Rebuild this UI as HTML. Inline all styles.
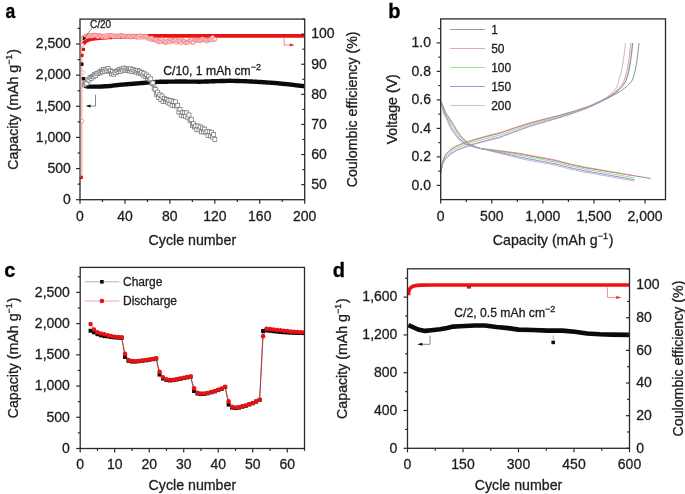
<!DOCTYPE html>
<html><head><meta charset="utf-8"><style>
html,body{margin:0;padding:0;background:#fff;width:685px;height:494px;overflow:hidden}
svg{display:block;will-change:transform}
text{font-family:"Liberation Sans", sans-serif}
</style></head><body>
<svg width="685" height="494" viewBox="0 0 685 494" font-family='"Liberation Sans", sans-serif'>
<rect width="685" height="494" fill="#fff"/>
<line x1="81.7" y1="40" x2="81.7" y2="178" stroke="#eec0c0" stroke-width="1.6" />
<polyline points="83.37,44 84.49,42.48 85.62,41.43 86.74,40.76 87.86,40.08 88.99,39.75 90.11,39.47 91.23,39.19 92.36,38.96 93.48,38.81 94.61,38.67 95.73,38.53 96.85,38.39 97.98,38.25 99.1,38.11 100.22,37.98 101.35,37.91 102.47,37.83 103.59,37.75 104.72,37.67 105.84,37.59 106.96,37.51 108.09,37.43 109.21,37.36 110.33,37.28 111.46,37.23 112.58,37.17 113.7,37.11 114.83,37.06 115.95,37 117.08,36.95 118.2,36.89 119.32,36.83 120.45,36.79 121.57,36.75 122.69,36.71 123.82,36.67 124.94,36.64 126.06,36.6 127.19,36.56 128.31,36.52 129.43,36.49 130.56,36.45 131.68,36.41 132.8,36.37 133.93,36.34 135.05,36.3 136.18,36.26 137.3,36.23 138.42,36.2 139.55,36.16 140.67,36.13 141.79,36.1 142.92,36.06 144.04,36.03 145.16,36 146.29,35.97 147.41,35.95 148.53,35.93 149.66,35.91 150.78,35.88 151.9,35.86 153.03,35.84 154.15,35.82 155.27,35.8 156.4,35.8 157.52,35.8 158.64,35.8 159.77,35.8 160.89,35.8 162.02,35.8 163.14,35.8 164.26,35.8 165.39,35.8 166.51,35.8 167.63,35.8 168.76,35.8 169.88,35.8 171,35.8 172.13,35.8 173.25,35.8 174.37,35.8 175.5,35.8 176.62,35.8 177.74,35.8 178.87,35.8 179.99,35.8 181.12,35.8 182.24,35.8 183.36,35.8 184.49,35.8 185.61,35.8 186.73,35.8 187.86,35.8 188.98,35.8 190.1,35.8 191.23,35.8 192.35,35.8 193.47,35.8 194.6,35.8 195.72,35.8 196.84,35.8 197.97,35.8 199.09,35.8 200.21,35.8 201.34,35.8 202.46,35.8 203.58,35.8 204.71,35.8 205.83,35.8 206.96,35.8 208.08,35.8 209.2,35.8 210.33,35.8 211.45,35.8 212.57,35.8 213.7,35.8 214.82,35.8 215.94,35.8 217.07,35.8 218.19,35.8 219.31,35.8 220.44,35.8 221.56,35.8 222.68,35.8 223.81,35.8 224.93,35.8 226.06,35.8 227.18,35.8 228.3,35.8 229.43,35.8 230.55,35.8 231.67,35.8 232.8,35.8 233.92,35.8 235.04,35.8 236.17,35.8 237.29,35.8 238.41,35.8 239.54,35.8 240.66,35.8 241.78,35.8 242.91,35.8 244.03,35.8 245.15,35.8 246.28,35.8 247.4,35.8 248.53,35.8 249.65,35.8 250.77,35.8 251.9,35.8 253.02,35.8 254.14,35.8 255.27,35.8 256.39,35.8 257.51,35.8 258.64,35.8 259.76,35.8 260.88,35.8 262.01,35.8 263.13,35.8 264.25,35.8 265.38,35.8 266.5,35.8 267.62,35.8 268.75,35.8 269.87,35.8 271,35.8 272.12,35.8 273.24,35.8 274.37,35.8 275.49,35.8 276.61,35.8 277.74,35.8 278.86,35.8 279.98,35.8 281.11,35.8 282.23,35.8 283.35,35.8 284.48,35.8 285.6,35.8 286.72,35.8 287.85,35.8 288.97,35.8 290.09,35.8 291.22,35.8 292.34,35.8 293.47,35.8 294.59,35.8 295.71,35.8 296.84,35.8 297.96,35.8 299.08,35.8 300.21,35.8 301.33,35.8 302.45,35.8 303.58,35.8 304.7,35.8" fill="none" stroke="#ee1111" stroke-width="3.8" stroke-linejoin="round" stroke-linecap="butt" />
<rect x="80.4" y="53.7" width="3.2" height="3.2" fill="#e51010"/>
<rect x="81.8" y="47.8" width="3.2" height="3.2" fill="#e51010"/>
<rect x="79.7" y="175.8" width="3.2" height="3.2" fill="#e51010"/>
<circle cx="82.4" cy="44.9" r="1.7" fill="#fff" stroke="#f07070" stroke-width="0.6"/>
<circle cx="82.2" cy="121.1" r="1.7" fill="#fff" stroke="#f07070" stroke-width="0.6"/>
<circle cx="83.37" cy="37.72" r="2.0" fill="#fde6e6" stroke="#ef6262" stroke-width="0.6"/>
<circle cx="84.49" cy="36.67" r="2.0" fill="#fde6e6" stroke="#ef6262" stroke-width="0.6"/>
<circle cx="85.62" cy="36.94" r="2.0" fill="#fde6e6" stroke="#ef6262" stroke-width="0.6"/>
<circle cx="86.74" cy="35.53" r="2.0" fill="#fde6e6" stroke="#ef6262" stroke-width="0.6"/>
<circle cx="87.86" cy="36.39" r="2.0" fill="#fde6e6" stroke="#ef6262" stroke-width="0.6"/>
<circle cx="88.99" cy="36.01" r="2.0" fill="#fde6e6" stroke="#ef6262" stroke-width="0.6"/>
<circle cx="90.11" cy="35.36" r="2.0" fill="#fde6e6" stroke="#ef6262" stroke-width="0.6"/>
<circle cx="91.23" cy="36.18" r="2.0" fill="#fde6e6" stroke="#ef6262" stroke-width="0.6"/>
<circle cx="92.36" cy="35.22" r="2.0" fill="#fde6e6" stroke="#ef6262" stroke-width="0.6"/>
<circle cx="93.48" cy="35.94" r="2.0" fill="#fde6e6" stroke="#ef6262" stroke-width="0.6"/>
<circle cx="94.61" cy="35.18" r="2.0" fill="#fde6e6" stroke="#ef6262" stroke-width="0.6"/>
<circle cx="95.73" cy="35.21" r="2.0" fill="#fde6e6" stroke="#ef6262" stroke-width="0.6"/>
<circle cx="96.85" cy="35.88" r="2.0" fill="#fde6e6" stroke="#ef6262" stroke-width="0.6"/>
<circle cx="97.98" cy="36.67" r="2.0" fill="#fde6e6" stroke="#ef6262" stroke-width="0.6"/>
<circle cx="99.1" cy="35.32" r="2.0" fill="#fde6e6" stroke="#ef6262" stroke-width="0.6"/>
<circle cx="100.22" cy="35.52" r="2.0" fill="#fde6e6" stroke="#ef6262" stroke-width="0.6"/>
<circle cx="101.35" cy="36.32" r="2.0" fill="#fde6e6" stroke="#ef6262" stroke-width="0.6"/>
<circle cx="102.47" cy="36.96" r="2.0" fill="#fde6e6" stroke="#ef6262" stroke-width="0.6"/>
<circle cx="103.59" cy="36.25" r="2.0" fill="#fde6e6" stroke="#ef6262" stroke-width="0.6"/>
<circle cx="104.72" cy="35.92" r="2.0" fill="#fde6e6" stroke="#ef6262" stroke-width="0.6"/>
<circle cx="105.84" cy="37.06" r="2.0" fill="#fde6e6" stroke="#ef6262" stroke-width="0.6"/>
<circle cx="106.96" cy="35.26" r="2.0" fill="#fde6e6" stroke="#ef6262" stroke-width="0.6"/>
<circle cx="108.09" cy="36.86" r="2.0" fill="#fde6e6" stroke="#ef6262" stroke-width="0.6"/>
<circle cx="109.21" cy="35.76" r="2.0" fill="#fde6e6" stroke="#ef6262" stroke-width="0.6"/>
<circle cx="110.33" cy="35.49" r="2.0" fill="#fde6e6" stroke="#ef6262" stroke-width="0.6"/>
<circle cx="111.46" cy="35.45" r="2.0" fill="#fde6e6" stroke="#ef6262" stroke-width="0.6"/>
<circle cx="112.58" cy="35.84" r="2.0" fill="#fde6e6" stroke="#ef6262" stroke-width="0.6"/>
<circle cx="113.7" cy="36.84" r="2.0" fill="#fde6e6" stroke="#ef6262" stroke-width="0.6"/>
<circle cx="114.83" cy="35.62" r="2.0" fill="#fde6e6" stroke="#ef6262" stroke-width="0.6"/>
<circle cx="115.95" cy="36.41" r="2.0" fill="#fde6e6" stroke="#ef6262" stroke-width="0.6"/>
<circle cx="117.08" cy="36.54" r="2.0" fill="#fde6e6" stroke="#ef6262" stroke-width="0.6"/>
<circle cx="118.2" cy="36.03" r="2.0" fill="#fde6e6" stroke="#ef6262" stroke-width="0.6"/>
<circle cx="119.32" cy="36.38" r="2.0" fill="#fde6e6" stroke="#ef6262" stroke-width="0.6"/>
<circle cx="120.45" cy="35.45" r="2.0" fill="#fde6e6" stroke="#ef6262" stroke-width="0.6"/>
<circle cx="121.57" cy="35.46" r="2.0" fill="#fde6e6" stroke="#ef6262" stroke-width="0.6"/>
<circle cx="122.69" cy="35.75" r="2.0" fill="#fde6e6" stroke="#ef6262" stroke-width="0.6"/>
<circle cx="123.82" cy="36.69" r="2.0" fill="#fde6e6" stroke="#ef6262" stroke-width="0.6"/>
<circle cx="124.94" cy="36.21" r="2.0" fill="#fde6e6" stroke="#ef6262" stroke-width="0.6"/>
<circle cx="126.06" cy="36" r="2.0" fill="#fde6e6" stroke="#ef6262" stroke-width="0.6"/>
<circle cx="127.19" cy="36.54" r="2.0" fill="#fde6e6" stroke="#ef6262" stroke-width="0.6"/>
<circle cx="128.31" cy="36.29" r="2.0" fill="#fde6e6" stroke="#ef6262" stroke-width="0.6"/>
<circle cx="129.43" cy="36" r="2.0" fill="#fde6e6" stroke="#ef6262" stroke-width="0.6"/>
<circle cx="130.56" cy="36.98" r="2.0" fill="#fde6e6" stroke="#ef6262" stroke-width="0.6"/>
<circle cx="131.68" cy="36.8" r="2.0" fill="#fde6e6" stroke="#ef6262" stroke-width="0.6"/>
<circle cx="132.8" cy="35.93" r="2.0" fill="#fde6e6" stroke="#ef6262" stroke-width="0.6"/>
<circle cx="133.93" cy="36.58" r="2.0" fill="#fde6e6" stroke="#ef6262" stroke-width="0.6"/>
<circle cx="135.05" cy="36.5" r="2.0" fill="#fde6e6" stroke="#ef6262" stroke-width="0.6"/>
<circle cx="136.18" cy="37.19" r="2.0" fill="#fde6e6" stroke="#ef6262" stroke-width="0.6"/>
<circle cx="137.3" cy="36.92" r="2.0" fill="#fde6e6" stroke="#ef6262" stroke-width="0.6"/>
<circle cx="138.42" cy="36.07" r="2.0" fill="#fde6e6" stroke="#ef6262" stroke-width="0.6"/>
<circle cx="139.55" cy="37.43" r="2.0" fill="#fde6e6" stroke="#ef6262" stroke-width="0.6"/>
<circle cx="140.67" cy="35.81" r="2.0" fill="#fde6e6" stroke="#ef6262" stroke-width="0.6"/>
<circle cx="141.79" cy="36.49" r="2.0" fill="#fde6e6" stroke="#ef6262" stroke-width="0.6"/>
<circle cx="142.92" cy="37.24" r="2.0" fill="#fde6e6" stroke="#ef6262" stroke-width="0.6"/>
<circle cx="144.04" cy="36.16" r="2.0" fill="#fde6e6" stroke="#ef6262" stroke-width="0.6"/>
<circle cx="145.16" cy="36.91" r="2.0" fill="#fde6e6" stroke="#ef6262" stroke-width="0.6"/>
<circle cx="146.29" cy="36.17" r="2.0" fill="#fde6e6" stroke="#ef6262" stroke-width="0.6"/>
<circle cx="147.41" cy="37.68" r="2.0" fill="#fde6e6" stroke="#ef6262" stroke-width="0.6"/>
<circle cx="148.53" cy="38.43" r="2.0" fill="#fde6e6" stroke="#ef6262" stroke-width="0.6"/>
<circle cx="149.66" cy="38.13" r="2.0" fill="#fde6e6" stroke="#ef6262" stroke-width="0.6"/>
<circle cx="150.78" cy="39.38" r="2.0" fill="#fde6e6" stroke="#ef6262" stroke-width="0.6"/>
<circle cx="151.9" cy="38.05" r="2.0" fill="#fde6e6" stroke="#ef6262" stroke-width="0.6"/>
<circle cx="153.03" cy="39.55" r="2.0" fill="#fde6e6" stroke="#ef6262" stroke-width="0.6"/>
<circle cx="154.15" cy="39.61" r="2.0" fill="#fde6e6" stroke="#ef6262" stroke-width="0.6"/>
<circle cx="155.27" cy="39.91" r="2.0" fill="#fde6e6" stroke="#ef6262" stroke-width="0.6"/>
<circle cx="156.4" cy="39.8" r="2.0" fill="#fde6e6" stroke="#ef6262" stroke-width="0.6"/>
<circle cx="157.52" cy="41.23" r="2.0" fill="#fde6e6" stroke="#ef6262" stroke-width="0.6"/>
<circle cx="158.64" cy="41.81" r="2.0" fill="#fde6e6" stroke="#ef6262" stroke-width="0.6"/>
<circle cx="159.77" cy="40.67" r="2.0" fill="#fde6e6" stroke="#ef6262" stroke-width="0.6"/>
<circle cx="160.89" cy="41.35" r="2.0" fill="#fde6e6" stroke="#ef6262" stroke-width="0.6"/>
<circle cx="162.02" cy="39.62" r="2.0" fill="#fde6e6" stroke="#ef6262" stroke-width="0.6"/>
<circle cx="163.14" cy="41.62" r="2.0" fill="#fde6e6" stroke="#ef6262" stroke-width="0.6"/>
<circle cx="164.26" cy="41.54" r="2.0" fill="#fde6e6" stroke="#ef6262" stroke-width="0.6"/>
<circle cx="165.39" cy="42.66" r="2.0" fill="#fde6e6" stroke="#ef6262" stroke-width="0.6"/>
<circle cx="166.51" cy="42.22" r="2.0" fill="#fde6e6" stroke="#ef6262" stroke-width="0.6"/>
<circle cx="167.63" cy="40.69" r="2.0" fill="#fde6e6" stroke="#ef6262" stroke-width="0.6"/>
<circle cx="168.76" cy="41.07" r="2.0" fill="#fde6e6" stroke="#ef6262" stroke-width="0.6"/>
<circle cx="169.88" cy="42" r="2.0" fill="#fde6e6" stroke="#ef6262" stroke-width="0.6"/>
<circle cx="171" cy="40.09" r="2.0" fill="#fde6e6" stroke="#ef6262" stroke-width="0.6"/>
<circle cx="172.13" cy="41.43" r="2.0" fill="#fde6e6" stroke="#ef6262" stroke-width="0.6"/>
<circle cx="173.25" cy="40.57" r="2.0" fill="#fde6e6" stroke="#ef6262" stroke-width="0.6"/>
<circle cx="174.37" cy="40.44" r="2.0" fill="#fde6e6" stroke="#ef6262" stroke-width="0.6"/>
<circle cx="175.5" cy="40.29" r="2.0" fill="#fde6e6" stroke="#ef6262" stroke-width="0.6"/>
<circle cx="176.62" cy="42.44" r="2.0" fill="#fde6e6" stroke="#ef6262" stroke-width="0.6"/>
<circle cx="177.74" cy="40.54" r="2.0" fill="#fde6e6" stroke="#ef6262" stroke-width="0.6"/>
<circle cx="178.87" cy="40.92" r="2.0" fill="#fde6e6" stroke="#ef6262" stroke-width="0.6"/>
<circle cx="179.99" cy="41.37" r="2.0" fill="#fde6e6" stroke="#ef6262" stroke-width="0.6"/>
<circle cx="181.12" cy="42.77" r="2.0" fill="#fde6e6" stroke="#ef6262" stroke-width="0.6"/>
<circle cx="182.24" cy="40.35" r="2.0" fill="#fde6e6" stroke="#ef6262" stroke-width="0.6"/>
<circle cx="183.36" cy="41.41" r="2.0" fill="#fde6e6" stroke="#ef6262" stroke-width="0.6"/>
<circle cx="184.49" cy="41.67" r="2.0" fill="#fde6e6" stroke="#ef6262" stroke-width="0.6"/>
<circle cx="185.61" cy="42.63" r="2.0" fill="#fde6e6" stroke="#ef6262" stroke-width="0.6"/>
<circle cx="186.73" cy="42.39" r="2.0" fill="#fde6e6" stroke="#ef6262" stroke-width="0.6"/>
<circle cx="187.86" cy="42.48" r="2.0" fill="#fde6e6" stroke="#ef6262" stroke-width="0.6"/>
<circle cx="188.98" cy="40.68" r="2.0" fill="#fde6e6" stroke="#ef6262" stroke-width="0.6"/>
<circle cx="190.1" cy="41.04" r="2.0" fill="#fde6e6" stroke="#ef6262" stroke-width="0.6"/>
<circle cx="191.23" cy="40.79" r="2.0" fill="#fde6e6" stroke="#ef6262" stroke-width="0.6"/>
<circle cx="192.35" cy="42.29" r="2.0" fill="#fde6e6" stroke="#ef6262" stroke-width="0.6"/>
<circle cx="193.47" cy="42.43" r="2.0" fill="#fde6e6" stroke="#ef6262" stroke-width="0.6"/>
<circle cx="194.6" cy="39.93" r="2.0" fill="#fde6e6" stroke="#ef6262" stroke-width="0.6"/>
<circle cx="195.72" cy="39.93" r="2.0" fill="#fde6e6" stroke="#ef6262" stroke-width="0.6"/>
<circle cx="196.84" cy="40.02" r="2.0" fill="#fde6e6" stroke="#ef6262" stroke-width="0.6"/>
<circle cx="197.97" cy="39.94" r="2.0" fill="#fde6e6" stroke="#ef6262" stroke-width="0.6"/>
<circle cx="199.09" cy="40.62" r="2.0" fill="#fde6e6" stroke="#ef6262" stroke-width="0.6"/>
<circle cx="200.21" cy="40.84" r="2.0" fill="#fde6e6" stroke="#ef6262" stroke-width="0.6"/>
<circle cx="201.34" cy="39.72" r="2.0" fill="#fde6e6" stroke="#ef6262" stroke-width="0.6"/>
<circle cx="202.46" cy="38.8" r="2.0" fill="#fde6e6" stroke="#ef6262" stroke-width="0.6"/>
<circle cx="203.58" cy="39.91" r="2.0" fill="#fde6e6" stroke="#ef6262" stroke-width="0.6"/>
<circle cx="204.71" cy="39.62" r="2.0" fill="#fde6e6" stroke="#ef6262" stroke-width="0.6"/>
<circle cx="205.83" cy="40.07" r="2.0" fill="#fde6e6" stroke="#ef6262" stroke-width="0.6"/>
<circle cx="206.96" cy="41.09" r="2.0" fill="#fde6e6" stroke="#ef6262" stroke-width="0.6"/>
<circle cx="208.08" cy="40.16" r="2.0" fill="#fde6e6" stroke="#ef6262" stroke-width="0.6"/>
<circle cx="209.2" cy="39.42" r="2.0" fill="#fde6e6" stroke="#ef6262" stroke-width="0.6"/>
<circle cx="210.33" cy="39.51" r="2.0" fill="#fde6e6" stroke="#ef6262" stroke-width="0.6"/>
<circle cx="211.45" cy="39.48" r="2.0" fill="#fde6e6" stroke="#ef6262" stroke-width="0.6"/>
<circle cx="212.57" cy="37.4" r="2.0" fill="#fde6e6" stroke="#ef6262" stroke-width="0.6"/>
<circle cx="213.7" cy="39.72" r="2.0" fill="#fde6e6" stroke="#ef6262" stroke-width="0.6"/>
<circle cx="214.82" cy="39.15" r="2.0" fill="#fde6e6" stroke="#ef6262" stroke-width="0.6"/>
<polyline points="84.6,85.2 85.62,86 86.74,86.41 87.86,86.58 88.99,86.6 90.11,86.6 91.23,86.6 92.36,86.6 93.48,86.6 94.61,86.6 95.73,86.6 96.85,86.6 97.98,86.6 99.1,86.6 100.22,86.59 101.35,86.52 102.47,86.45 103.59,86.38 104.72,86.32 105.84,86.25 106.96,86.18 108.09,86.11 109.21,86.05 110.33,85.96 111.46,85.83 112.58,85.69 113.7,85.56 114.83,85.42 115.95,85.29 117.08,85.15 118.2,85.02 119.32,84.88 120.45,84.76 121.57,84.67 122.69,84.58 123.82,84.49 124.94,84.4 126.06,84.31 127.19,84.23 128.31,84.14 129.43,84.05 130.56,83.96 131.68,83.87 132.8,83.78 133.93,83.69 135.05,83.6 136.18,83.51 137.3,83.42 138.42,83.33 139.55,83.24 140.67,83.14 141.79,83.04 142.92,82.94 144.04,82.84 145.16,82.74 146.29,82.63 147.41,82.53 148.53,82.43 149.66,82.33 150.78,82.26 151.9,82.2 153.03,82.15 154.15,82.09 155.27,82.04 156.4,81.98 157.52,81.92 158.64,81.87 159.77,81.81 160.89,81.79 162.02,81.77 163.14,81.75 164.26,81.74 165.39,81.72 166.51,81.7 167.63,81.69 168.76,81.67 169.88,81.65 171,81.63 172.13,81.62 173.25,81.6 174.37,81.58 175.5,81.57 176.62,81.55 177.74,81.53 178.87,81.52 179.99,81.5 181.12,81.51 182.24,81.52 183.36,81.53 184.49,81.54 185.61,81.56 186.73,81.57 187.86,81.58 188.98,81.59 190.1,81.6 191.23,81.61 192.35,81.62 193.47,81.63 194.6,81.65 195.72,81.66 196.84,81.67 197.97,81.68 199.09,81.69 200.21,81.69 201.34,81.66 202.46,81.62 203.58,81.58 204.71,81.54 205.83,81.51 206.96,81.47 208.08,81.43 209.2,81.39 210.33,81.36 211.45,81.32 212.57,81.28 213.7,81.24 214.82,81.21 215.94,81.17 217.07,81.14 218.19,81.11 219.31,81.08 220.44,81.06 221.56,81.03 222.68,81 223.81,80.97 224.93,80.94 226.06,80.91 227.18,80.88 228.3,80.85 229.43,80.82 230.55,80.81 231.67,80.84 232.8,80.87 233.92,80.9 235.04,80.93 236.17,80.96 237.29,80.99 238.41,81.02 239.54,81.05 240.66,81.08 241.78,81.11 242.91,81.14 244.03,81.17 245.15,81.21 246.28,81.27 247.4,81.33 248.53,81.39 249.65,81.45 250.77,81.51 251.9,81.57 253.02,81.63 254.14,81.69 255.27,81.75 256.39,81.81 257.51,81.87 258.64,81.93 259.76,81.99 260.88,82.06 262.01,82.13 263.13,82.21 264.25,82.28 265.38,82.36 266.5,82.43 267.62,82.51 268.75,82.58 269.87,82.66 271,82.73 272.12,82.81 273.24,82.88 274.37,82.96 275.49,83.05 276.61,83.16 277.74,83.27 278.86,83.39 279.98,83.5 281.11,83.61 282.23,83.72 283.35,83.84 284.48,83.95 285.6,84.06 286.72,84.17 287.85,84.28 288.97,84.4 290.09,84.51 291.22,84.65 292.34,84.78 293.47,84.92 294.59,85.06 295.71,85.19 296.84,85.33 297.96,85.47 299.08,85.6 300.21,85.74 301.33,85.88 302.45,86.01 303.58,86.15 304.7,86.2" fill="none" stroke="#0a0a0a" stroke-width="4.4" stroke-linejoin="round" stroke-linecap="butt" />
<rect x="80.1" y="62.5" width="3.4" height="3.4" fill="#111"/>
<rect x="81.8" y="77" width="3.4" height="3.4" fill="#111"/>
<circle cx="83.2" cy="72.5" r="1.7" fill="#fff" stroke="#c9a0a0" stroke-width="0.6"/>
<rect x="82.49" y="82.79" width="4" height="4" fill="#fff" stroke="#6e6e6e" stroke-width="0.7"/>
<rect x="83.62" y="80.95" width="4" height="4" fill="#fff" stroke="#6e6e6e" stroke-width="0.7"/>
<rect x="84.74" y="81.28" width="4" height="4" fill="#fff" stroke="#6e6e6e" stroke-width="0.7"/>
<rect x="85.86" y="77.82" width="4" height="4" fill="#fff" stroke="#6e6e6e" stroke-width="0.7"/>
<rect x="86.99" y="78.06" width="4" height="4" fill="#fff" stroke="#6e6e6e" stroke-width="0.7"/>
<rect x="88.11" y="75.53" width="4" height="4" fill="#fff" stroke="#6e6e6e" stroke-width="0.7"/>
<rect x="89.23" y="76.29" width="4" height="4" fill="#fff" stroke="#6e6e6e" stroke-width="0.7"/>
<rect x="90.36" y="74.35" width="4" height="4" fill="#fff" stroke="#6e6e6e" stroke-width="0.7"/>
<rect x="91.48" y="74.8" width="4" height="4" fill="#fff" stroke="#6e6e6e" stroke-width="0.7"/>
<rect x="92.61" y="72.67" width="4" height="4" fill="#fff" stroke="#6e6e6e" stroke-width="0.7"/>
<rect x="93.73" y="73.39" width="4" height="4" fill="#fff" stroke="#6e6e6e" stroke-width="0.7"/>
<rect x="94.85" y="71.36" width="4" height="4" fill="#fff" stroke="#6e6e6e" stroke-width="0.7"/>
<rect x="95.98" y="71.73" width="4" height="4" fill="#fff" stroke="#6e6e6e" stroke-width="0.7"/>
<rect x="97.1" y="70" width="4" height="4" fill="#fff" stroke="#6e6e6e" stroke-width="0.7"/>
<rect x="98.22" y="70.76" width="4" height="4" fill="#fff" stroke="#6e6e6e" stroke-width="0.7"/>
<rect x="99.35" y="68.88" width="4" height="4" fill="#fff" stroke="#6e6e6e" stroke-width="0.7"/>
<rect x="100.47" y="69.74" width="4" height="4" fill="#fff" stroke="#6e6e6e" stroke-width="0.7"/>
<rect x="101.59" y="67.37" width="4" height="4" fill="#fff" stroke="#6e6e6e" stroke-width="0.7"/>
<rect x="102.72" y="69.14" width="4" height="4" fill="#fff" stroke="#6e6e6e" stroke-width="0.7"/>
<rect x="103.84" y="67.03" width="4" height="4" fill="#fff" stroke="#6e6e6e" stroke-width="0.7"/>
<rect x="104.96" y="68.27" width="4" height="4" fill="#fff" stroke="#6e6e6e" stroke-width="0.7"/>
<rect x="106.09" y="66.61" width="4" height="4" fill="#fff" stroke="#6e6e6e" stroke-width="0.7"/>
<rect x="107.21" y="69.14" width="4" height="4" fill="#fff" stroke="#6e6e6e" stroke-width="0.7"/>
<rect x="108.33" y="68.82" width="4" height="4" fill="#fff" stroke="#6e6e6e" stroke-width="0.7"/>
<rect x="109.46" y="71.82" width="4" height="4" fill="#fff" stroke="#6e6e6e" stroke-width="0.7"/>
<rect x="110.58" y="69.63" width="4" height="4" fill="#fff" stroke="#6e6e6e" stroke-width="0.7"/>
<rect x="111.7" y="72.22" width="4" height="4" fill="#fff" stroke="#6e6e6e" stroke-width="0.7"/>
<rect x="112.83" y="70.28" width="4" height="4" fill="#fff" stroke="#6e6e6e" stroke-width="0.7"/>
<rect x="113.95" y="70.83" width="4" height="4" fill="#fff" stroke="#6e6e6e" stroke-width="0.7"/>
<rect x="115.08" y="68.7" width="4" height="4" fill="#fff" stroke="#6e6e6e" stroke-width="0.7"/>
<rect x="116.2" y="69.59" width="4" height="4" fill="#fff" stroke="#6e6e6e" stroke-width="0.7"/>
<rect x="117.32" y="67.65" width="4" height="4" fill="#fff" stroke="#6e6e6e" stroke-width="0.7"/>
<rect x="118.45" y="69.24" width="4" height="4" fill="#fff" stroke="#6e6e6e" stroke-width="0.7"/>
<rect x="119.57" y="67.07" width="4" height="4" fill="#fff" stroke="#6e6e6e" stroke-width="0.7"/>
<rect x="120.69" y="68.07" width="4" height="4" fill="#fff" stroke="#6e6e6e" stroke-width="0.7"/>
<rect x="121.82" y="66.02" width="4" height="4" fill="#fff" stroke="#6e6e6e" stroke-width="0.7"/>
<rect x="122.94" y="68.18" width="4" height="4" fill="#fff" stroke="#6e6e6e" stroke-width="0.7"/>
<rect x="124.06" y="66.74" width="4" height="4" fill="#fff" stroke="#6e6e6e" stroke-width="0.7"/>
<rect x="125.19" y="68.54" width="4" height="4" fill="#fff" stroke="#6e6e6e" stroke-width="0.7"/>
<rect x="126.31" y="67.21" width="4" height="4" fill="#fff" stroke="#6e6e6e" stroke-width="0.7"/>
<rect x="127.43" y="68.88" width="4" height="4" fill="#fff" stroke="#6e6e6e" stroke-width="0.7"/>
<rect x="128.56" y="66.75" width="4" height="4" fill="#fff" stroke="#6e6e6e" stroke-width="0.7"/>
<rect x="129.68" y="69.68" width="4" height="4" fill="#fff" stroke="#6e6e6e" stroke-width="0.7"/>
<rect x="130.8" y="67.55" width="4" height="4" fill="#fff" stroke="#6e6e6e" stroke-width="0.7"/>
<rect x="131.93" y="69.68" width="4" height="4" fill="#fff" stroke="#6e6e6e" stroke-width="0.7"/>
<rect x="133.05" y="68.38" width="4" height="4" fill="#fff" stroke="#6e6e6e" stroke-width="0.7"/>
<rect x="134.18" y="70.16" width="4" height="4" fill="#fff" stroke="#6e6e6e" stroke-width="0.7"/>
<rect x="135.3" y="68.61" width="4" height="4" fill="#fff" stroke="#6e6e6e" stroke-width="0.7"/>
<rect x="136.42" y="71.07" width="4" height="4" fill="#fff" stroke="#6e6e6e" stroke-width="0.7"/>
<rect x="137.55" y="69.19" width="4" height="4" fill="#fff" stroke="#6e6e6e" stroke-width="0.7"/>
<rect x="138.67" y="71.48" width="4" height="4" fill="#fff" stroke="#6e6e6e" stroke-width="0.7"/>
<rect x="139.79" y="70.4" width="4" height="4" fill="#fff" stroke="#6e6e6e" stroke-width="0.7"/>
<rect x="140.92" y="73.09" width="4" height="4" fill="#fff" stroke="#6e6e6e" stroke-width="0.7"/>
<rect x="142.04" y="71.23" width="4" height="4" fill="#fff" stroke="#6e6e6e" stroke-width="0.7"/>
<rect x="143.16" y="74.64" width="4" height="4" fill="#fff" stroke="#6e6e6e" stroke-width="0.7"/>
<rect x="144.29" y="72.96" width="4" height="4" fill="#fff" stroke="#6e6e6e" stroke-width="0.7"/>
<rect x="145.41" y="76.3" width="4" height="4" fill="#fff" stroke="#6e6e6e" stroke-width="0.7"/>
<rect x="146.53" y="74.78" width="4" height="4" fill="#fff" stroke="#6e6e6e" stroke-width="0.7"/>
<rect x="147.66" y="77.62" width="4" height="4" fill="#fff" stroke="#6e6e6e" stroke-width="0.7"/>
<rect x="148.78" y="76.82" width="4" height="4" fill="#fff" stroke="#6e6e6e" stroke-width="0.7"/>
<rect x="149.9" y="81.37" width="4" height="4" fill="#fff" stroke="#6e6e6e" stroke-width="0.7"/>
<rect x="151.03" y="80.84" width="4" height="4" fill="#fff" stroke="#6e6e6e" stroke-width="0.7"/>
<rect x="152.15" y="86.22" width="4" height="4" fill="#fff" stroke="#6e6e6e" stroke-width="0.7"/>
<rect x="153.27" y="87.44" width="4" height="4" fill="#fff" stroke="#6e6e6e" stroke-width="0.7"/>
<rect x="154.4" y="92.2" width="4" height="4" fill="#fff" stroke="#6e6e6e" stroke-width="0.7"/>
<rect x="155.52" y="90.16" width="4" height="4" fill="#fff" stroke="#6e6e6e" stroke-width="0.7"/>
<rect x="156.64" y="95.49" width="4" height="4" fill="#fff" stroke="#6e6e6e" stroke-width="0.7"/>
<rect x="157.77" y="92.75" width="4" height="4" fill="#fff" stroke="#6e6e6e" stroke-width="0.7"/>
<rect x="158.89" y="97.69" width="4" height="4" fill="#fff" stroke="#6e6e6e" stroke-width="0.7"/>
<rect x="160.02" y="94.08" width="4" height="4" fill="#fff" stroke="#6e6e6e" stroke-width="0.7"/>
<rect x="161.14" y="99.41" width="4" height="4" fill="#fff" stroke="#6e6e6e" stroke-width="0.7"/>
<rect x="162.26" y="96.32" width="4" height="4" fill="#fff" stroke="#6e6e6e" stroke-width="0.7"/>
<rect x="163.39" y="99.36" width="4" height="4" fill="#fff" stroke="#6e6e6e" stroke-width="0.7"/>
<rect x="164.51" y="97.45" width="4" height="4" fill="#fff" stroke="#6e6e6e" stroke-width="0.7"/>
<rect x="165.63" y="100.13" width="4" height="4" fill="#fff" stroke="#6e6e6e" stroke-width="0.7"/>
<rect x="166.76" y="98.29" width="4" height="4" fill="#fff" stroke="#6e6e6e" stroke-width="0.7"/>
<rect x="167.88" y="101.87" width="4" height="4" fill="#fff" stroke="#6e6e6e" stroke-width="0.7"/>
<rect x="169" y="98.57" width="4" height="4" fill="#fff" stroke="#6e6e6e" stroke-width="0.7"/>
<rect x="170.13" y="103.26" width="4" height="4" fill="#fff" stroke="#6e6e6e" stroke-width="0.7"/>
<rect x="171.25" y="99.7" width="4" height="4" fill="#fff" stroke="#6e6e6e" stroke-width="0.7"/>
<rect x="172.37" y="103.26" width="4" height="4" fill="#fff" stroke="#6e6e6e" stroke-width="0.7"/>
<rect x="173.5" y="99.92" width="4" height="4" fill="#fff" stroke="#6e6e6e" stroke-width="0.7"/>
<rect x="174.62" y="104.06" width="4" height="4" fill="#fff" stroke="#6e6e6e" stroke-width="0.7"/>
<rect x="175.74" y="103.24" width="4" height="4" fill="#fff" stroke="#6e6e6e" stroke-width="0.7"/>
<rect x="176.87" y="110.01" width="4" height="4" fill="#fff" stroke="#6e6e6e" stroke-width="0.7"/>
<rect x="177.99" y="107.59" width="4" height="4" fill="#fff" stroke="#6e6e6e" stroke-width="0.7"/>
<rect x="179.12" y="113.22" width="4" height="4" fill="#fff" stroke="#6e6e6e" stroke-width="0.7"/>
<rect x="180.24" y="110.43" width="4" height="4" fill="#fff" stroke="#6e6e6e" stroke-width="0.7"/>
<rect x="181.36" y="113.85" width="4" height="4" fill="#fff" stroke="#6e6e6e" stroke-width="0.7"/>
<rect x="182.49" y="110.88" width="4" height="4" fill="#fff" stroke="#6e6e6e" stroke-width="0.7"/>
<rect x="183.61" y="114.2" width="4" height="4" fill="#fff" stroke="#6e6e6e" stroke-width="0.7"/>
<rect x="184.73" y="110.79" width="4" height="4" fill="#fff" stroke="#6e6e6e" stroke-width="0.7"/>
<rect x="185.86" y="115.84" width="4" height="4" fill="#fff" stroke="#6e6e6e" stroke-width="0.7"/>
<rect x="186.98" y="112.99" width="4" height="4" fill="#fff" stroke="#6e6e6e" stroke-width="0.7"/>
<rect x="188.1" y="118.48" width="4" height="4" fill="#fff" stroke="#6e6e6e" stroke-width="0.7"/>
<rect x="189.23" y="117.5" width="4" height="4" fill="#fff" stroke="#6e6e6e" stroke-width="0.7"/>
<rect x="190.35" y="123.63" width="4" height="4" fill="#fff" stroke="#6e6e6e" stroke-width="0.7"/>
<rect x="191.47" y="121.75" width="4" height="4" fill="#fff" stroke="#6e6e6e" stroke-width="0.7"/>
<rect x="192.6" y="124.98" width="4" height="4" fill="#fff" stroke="#6e6e6e" stroke-width="0.7"/>
<rect x="193.72" y="123.92" width="4" height="4" fill="#fff" stroke="#6e6e6e" stroke-width="0.7"/>
<rect x="194.84" y="127.79" width="4" height="4" fill="#fff" stroke="#6e6e6e" stroke-width="0.7"/>
<rect x="195.97" y="124.04" width="4" height="4" fill="#fff" stroke="#6e6e6e" stroke-width="0.7"/>
<rect x="197.09" y="127.64" width="4" height="4" fill="#fff" stroke="#6e6e6e" stroke-width="0.7"/>
<rect x="198.21" y="124.92" width="4" height="4" fill="#fff" stroke="#6e6e6e" stroke-width="0.7"/>
<rect x="199.34" y="129.85" width="4" height="4" fill="#fff" stroke="#6e6e6e" stroke-width="0.7"/>
<rect x="200.46" y="126.08" width="4" height="4" fill="#fff" stroke="#6e6e6e" stroke-width="0.7"/>
<rect x="201.58" y="129.74" width="4" height="4" fill="#fff" stroke="#6e6e6e" stroke-width="0.7"/>
<rect x="202.71" y="127.16" width="4" height="4" fill="#fff" stroke="#6e6e6e" stroke-width="0.7"/>
<rect x="203.83" y="130.39" width="4" height="4" fill="#fff" stroke="#6e6e6e" stroke-width="0.7"/>
<rect x="204.96" y="129.41" width="4" height="4" fill="#fff" stroke="#6e6e6e" stroke-width="0.7"/>
<rect x="206.08" y="133.43" width="4" height="4" fill="#fff" stroke="#6e6e6e" stroke-width="0.7"/>
<rect x="207.2" y="129.83" width="4" height="4" fill="#fff" stroke="#6e6e6e" stroke-width="0.7"/>
<rect x="208.33" y="133.74" width="4" height="4" fill="#fff" stroke="#6e6e6e" stroke-width="0.7"/>
<rect x="209.45" y="130.25" width="4" height="4" fill="#fff" stroke="#6e6e6e" stroke-width="0.7"/>
<rect x="210.57" y="135.06" width="4" height="4" fill="#fff" stroke="#6e6e6e" stroke-width="0.7"/>
<rect x="211.7" y="132.39" width="4" height="4" fill="#fff" stroke="#6e6e6e" stroke-width="0.7"/>
<rect x="212.82" y="137.62" width="4" height="4" fill="#fff" stroke="#6e6e6e" stroke-width="0.7"/>
<line x1="91.9" y1="28.2" x2="84.5" y2="37.8" stroke="#444" stroke-width="0.6" />
<path d="M82.6,40.6 L83.3,36.3 L86.1,38.4 Z" fill="#111"/>
<text x="90" y="27.6" font-size="10" text-anchor="start" font-weight="normal" fill="#1e1e1e" stroke="#1e1e1e" stroke-width="0.3" >C/20</text>
<text x="163.3" y="74.8" font-size="12.2" text-anchor="start" font-weight="normal" fill="#1e1e1e" stroke="#1e1e1e" stroke-width="0.3" >C/10, 1 mAh cm<tspan dy="-4.6" font-size="9">&#8722;2</tspan></text>
<polyline points="95.5,95.2 95.5,106.1 89,106.1" fill="none" stroke="#777" stroke-width="0.9" stroke-linejoin="round" stroke-linecap="round" />
<path d="M85.6,106.1 L90.5,104.6 L90.5,107.6 Z" fill="#111"/>
<polyline points="284.2,38.6 284.2,45.1 291,45.1" fill="none" stroke="#e46a6a" stroke-width="0.75" stroke-linejoin="round" stroke-linecap="round" />
<path d="M294.6,45.1 L289.8,43.6 L289.8,46.6 Z" fill="#e02020"/>
<rect x="80" y="19.1" width="224.7" height="180.6" fill="none" stroke="#2a2a2a" stroke-width="1.3"/>
<line x1="80.1" y1="42" x2="80.1" y2="178" stroke="rgba(235,150,150,0.45)" stroke-width="1.4" />
<line x1="76" y1="199.7" x2="80" y2="199.7" stroke="#2a2a2a" stroke-width="1.2" />
<text x="70.9" y="204" font-size="14" text-anchor="end" font-weight="normal" fill="#1e1e1e" stroke="#1e1e1e" stroke-width="0.3" >0</text>
<line x1="76" y1="168.56" x2="80" y2="168.56" stroke="#2a2a2a" stroke-width="1.2" />
<text x="70.9" y="172.86" font-size="14" text-anchor="end" font-weight="normal" fill="#1e1e1e" stroke="#1e1e1e" stroke-width="0.3" >500</text>
<line x1="76" y1="137.42" x2="80" y2="137.42" stroke="#2a2a2a" stroke-width="1.2" />
<text x="70.9" y="141.72" font-size="14" text-anchor="end" font-weight="normal" fill="#1e1e1e" stroke="#1e1e1e" stroke-width="0.3" >1,000</text>
<line x1="76" y1="106.29" x2="80" y2="106.29" stroke="#2a2a2a" stroke-width="1.2" />
<text x="70.9" y="110.59" font-size="14" text-anchor="end" font-weight="normal" fill="#1e1e1e" stroke="#1e1e1e" stroke-width="0.3" >1,500</text>
<line x1="76" y1="75.15" x2="80" y2="75.15" stroke="#2a2a2a" stroke-width="1.2" />
<text x="70.9" y="79.45" font-size="14" text-anchor="end" font-weight="normal" fill="#1e1e1e" stroke="#1e1e1e" stroke-width="0.3" >2,000</text>
<line x1="76" y1="44.01" x2="80" y2="44.01" stroke="#2a2a2a" stroke-width="1.2" />
<text x="70.9" y="48.31" font-size="14" text-anchor="end" font-weight="normal" fill="#1e1e1e" stroke="#1e1e1e" stroke-width="0.3" >2,500</text>
<line x1="77.6" y1="184.13" x2="80" y2="184.13" stroke="#2a2a2a" stroke-width="1.2" />
<line x1="77.6" y1="152.99" x2="80" y2="152.99" stroke="#2a2a2a" stroke-width="1.2" />
<line x1="77.6" y1="121.86" x2="80" y2="121.86" stroke="#2a2a2a" stroke-width="1.2" />
<line x1="77.6" y1="90.72" x2="80" y2="90.72" stroke="#2a2a2a" stroke-width="1.2" />
<line x1="77.6" y1="59.58" x2="80" y2="59.58" stroke="#2a2a2a" stroke-width="1.2" />
<line x1="77.6" y1="28.44" x2="80" y2="28.44" stroke="#2a2a2a" stroke-width="1.2" />
<line x1="80" y1="199.7" x2="80" y2="203.7" stroke="#2a2a2a" stroke-width="1.2" />
<text x="80" y="220.6" font-size="14" text-anchor="middle" font-weight="normal" fill="#1e1e1e" stroke="#1e1e1e" stroke-width="0.3" >0</text>
<line x1="124.94" y1="199.7" x2="124.94" y2="203.7" stroke="#2a2a2a" stroke-width="1.2" />
<text x="124.94" y="220.6" font-size="14" text-anchor="middle" font-weight="normal" fill="#1e1e1e" stroke="#1e1e1e" stroke-width="0.3" >40</text>
<line x1="169.88" y1="199.7" x2="169.88" y2="203.7" stroke="#2a2a2a" stroke-width="1.2" />
<text x="169.88" y="220.6" font-size="14" text-anchor="middle" font-weight="normal" fill="#1e1e1e" stroke="#1e1e1e" stroke-width="0.3" >80</text>
<line x1="214.82" y1="199.7" x2="214.82" y2="203.7" stroke="#2a2a2a" stroke-width="1.2" />
<text x="214.82" y="220.6" font-size="14" text-anchor="middle" font-weight="normal" fill="#1e1e1e" stroke="#1e1e1e" stroke-width="0.3" >120</text>
<line x1="259.76" y1="199.7" x2="259.76" y2="203.7" stroke="#2a2a2a" stroke-width="1.2" />
<text x="259.76" y="220.6" font-size="14" text-anchor="middle" font-weight="normal" fill="#1e1e1e" stroke="#1e1e1e" stroke-width="0.3" >160</text>
<line x1="304.7" y1="199.7" x2="304.7" y2="203.7" stroke="#2a2a2a" stroke-width="1.2" />
<text x="304.7" y="220.6" font-size="14" text-anchor="middle" font-weight="normal" fill="#1e1e1e" stroke="#1e1e1e" stroke-width="0.3" >200</text>
<line x1="102.47" y1="199.7" x2="102.47" y2="202.1" stroke="#2a2a2a" stroke-width="1.2" />
<line x1="147.41" y1="199.7" x2="147.41" y2="202.1" stroke="#2a2a2a" stroke-width="1.2" />
<line x1="192.35" y1="199.7" x2="192.35" y2="202.1" stroke="#2a2a2a" stroke-width="1.2" />
<line x1="237.29" y1="199.7" x2="237.29" y2="202.1" stroke="#2a2a2a" stroke-width="1.2" />
<line x1="282.23" y1="199.7" x2="282.23" y2="202.1" stroke="#2a2a2a" stroke-width="1.2" />
<line x1="301.2" y1="184.65" x2="304.7" y2="184.65" stroke="#2a2a2a" stroke-width="1.2" />
<text x="311.2" y="188.95" font-size="14" text-anchor="start" font-weight="normal" fill="#1e1e1e" stroke="#1e1e1e" stroke-width="0.3" >50</text>
<line x1="301.2" y1="154.55" x2="304.7" y2="154.55" stroke="#2a2a2a" stroke-width="1.2" />
<text x="311.2" y="158.85" font-size="14" text-anchor="start" font-weight="normal" fill="#1e1e1e" stroke="#1e1e1e" stroke-width="0.3" >60</text>
<line x1="301.2" y1="124.45" x2="304.7" y2="124.45" stroke="#2a2a2a" stroke-width="1.2" />
<text x="311.2" y="128.75" font-size="14" text-anchor="start" font-weight="normal" fill="#1e1e1e" stroke="#1e1e1e" stroke-width="0.3" >70</text>
<line x1="301.2" y1="94.35" x2="304.7" y2="94.35" stroke="#2a2a2a" stroke-width="1.2" />
<text x="311.2" y="98.65" font-size="14" text-anchor="start" font-weight="normal" fill="#1e1e1e" stroke="#1e1e1e" stroke-width="0.3" >80</text>
<line x1="301.2" y1="64.25" x2="304.7" y2="64.25" stroke="#2a2a2a" stroke-width="1.2" />
<text x="311.2" y="68.55" font-size="14" text-anchor="start" font-weight="normal" fill="#1e1e1e" stroke="#1e1e1e" stroke-width="0.3" >90</text>
<line x1="301.2" y1="34.15" x2="304.7" y2="34.15" stroke="#2a2a2a" stroke-width="1.2" />
<text x="311.2" y="38.45" font-size="14" text-anchor="start" font-weight="normal" fill="#1e1e1e" stroke="#1e1e1e" stroke-width="0.3" >100</text>
<line x1="302.3" y1="169.6" x2="304.7" y2="169.6" stroke="#2a2a2a" stroke-width="1.2" />
<line x1="302.3" y1="139.5" x2="304.7" y2="139.5" stroke="#2a2a2a" stroke-width="1.2" />
<line x1="302.3" y1="109.4" x2="304.7" y2="109.4" stroke="#2a2a2a" stroke-width="1.2" />
<line x1="302.3" y1="79.3" x2="304.7" y2="79.3" stroke="#2a2a2a" stroke-width="1.2" />
<line x1="302.3" y1="49.2" x2="304.7" y2="49.2" stroke="#2a2a2a" stroke-width="1.2" />
<line x1="302.3" y1="19.1" x2="304.7" y2="19.1" stroke="#2a2a2a" stroke-width="1.2" />
<text x="18.4" y="109.4" font-size="14.2" text-anchor="middle" font-weight="normal" fill="#1e1e1e" stroke="#1e1e1e" stroke-width="0.3" transform="rotate(-90 18.4 109.4)" >Capacity (mAh g<tspan dy="-6.2" font-size="9">&#8722;1</tspan><tspan dy="6.2" dx="0.8">)</tspan></text>
<text x="192.35" y="244.6" font-size="14.2" text-anchor="middle" font-weight="normal" fill="#1e1e1e" stroke="#1e1e1e" stroke-width="0.3" >Cycle number</text>
<text x="356.8" y="109.4" font-size="14.2" text-anchor="middle" font-weight="normal" fill="#1e1e1e" stroke="#1e1e1e" stroke-width="0.3" transform="rotate(-90 356.8 109.4)" >Coulombic efficiency (%)</text>
<g transform="translate(5.4 0) scale(0.88 1)">
<text x="0" y="18" font-size="20" text-anchor="start" font-weight="bold" fill="#000" stroke="#000" stroke-width="0.3" >a</text>
</g>
<polyline points="440.7,172.5 440.93,171.29 441.15,170.09 441.38,168.88 441.6,167.68 441.93,166.06 442.25,164.44 442.57,162.82 442.9,161.21 443.5,159.74 444.1,158.28 444.7,156.81 445.3,155.34 446.5,153.95 447.7,152.7 448.9,151.45 450.1,150.2 451.62,149.27 453.15,148.35 454.68,147.43 456.2,146.5 457.73,145.88 459.25,145.25 460.77,144.62 462.3,144 463.8,143.5 465.3,143 466.8,142.5 468.3,142 469.82,141.5 471.35,141 472.88,140.5 474.4,140 475.8,139.6 477.2,139.2 478.6,138.8 480,138.4 482,137.85 484,137.3 486,136.75 488,136.2 491,135.45 494,134.7 497,133.95 500,133.2 503.5,132 507,130.81 510.5,129.61 514,128.41 517.8,127.17 521.6,125.92 525.4,124.68 529.2,123.44 532.9,122.44 536.6,121.45 540.3,120.45 544,119.46 547.6,118.56 551.2,117.67 554.8,116.77 558.4,115.88 562.05,114.81 565.7,113.74 569.35,112.67 573,111.59 576.65,110.4 580.3,109.2 583.95,108.01 587.6,106.81 589.2,106.16 590.8,105.5 592.4,104.82 594,104.15 595.53,103.43 597.23,102.72 598.93,102 600.63,101.29 602.92,100.26 605.21,99.23 607.5,98.2 609.79,97.17 611.56,96.22 613.32,95.26 615.09,94.3 616.86,93.34 618.07,92.58 619.29,91.82 620.5,91.06 621.71,90.3 622.99,89.32 624.26,88.34 625.54,87.36 626.81,86.38 627.87,85.3 628.92,84.22 629.97,83.14 631.02,82.06 631.99,80.56 632.7,79.05 633.25,77.53 633.8,76 634.18,74.5 634.55,73 634.93,71.5 635.3,70 635.65,68 636,66 636.35,64 636.7,62 637,59.75 637.3,57.5 637.6,55.25 637.9,53 638.17,50.6 638.45,48.2 638.73,45.8 639,43.4" fill="none" stroke="#737373" stroke-width="0.8" stroke-linejoin="round" stroke-linecap="round" />
<polyline points="440.7,172.5 440.93,171.27 441.15,170.03 441.38,168.8 441.6,167.57 441.93,165.91 442.25,164.26 442.57,162.6 442.9,160.94 443.5,159.41 444.1,157.87 444.7,156.33 445.3,154.79 446.5,153.35 447.7,152.1 448.9,150.85 450.1,149.6 451.62,148.67 453.15,147.75 454.68,146.83 456.2,145.9 457.73,145.28 459.25,144.65 460.77,144.03 462.3,143.4 463.8,142.9 465.3,142.4 466.8,141.9 468.3,141.4 469.82,140.9 471.35,140.4 472.88,139.9 474.4,139.4 475.8,139 477.2,138.6 478.6,138.2 480,137.8 482,137.25 484,136.7 486,136.15 488,135.6 491,134.85 494,134.1 497,133.35 500,132.6 503.5,131.42 507,130.24 510.5,129.06 514,127.88 517.8,126.66 521.6,125.43 525.4,124.21 529.2,122.98 532.9,122.01 536.6,121.03 540.3,120.06 544,119.08 547.6,118.2 551.2,117.32 554.8,116.45 558.4,115.57 562.05,114.52 565.7,113.46 569.35,112.41 573,111.36 576.65,110.18 580.3,109.01 583.95,107.83 587.6,106.65 589.2,106.01 590.8,105.35 592.4,104.67 594,104 595.49,103.28 596.94,102.57 598.39,101.86 599.85,101.16 601.78,100.13 603.71,99.11 605.64,98.09 607.57,97.06 609,96.11 610.44,95.16 611.87,94.21 613.31,93.26 614.25,92.5 615.2,91.75 616.15,90.99 617.1,90.24 618.03,89.26 618.97,88.29 619.9,87.31 620.83,86.34 621.51,85.27 622.19,84.19 622.86,83.12 623.54,82.05 623.99,80.56 624.5,79.05 625.05,77.53 625.6,76 625.98,74.5 626.35,73 626.73,71.5 627.1,70 627.45,68 627.8,66 628.15,64 628.5,62 628.8,59.75 629.1,57.5 629.4,55.25 629.7,53 629.97,50.6 630.25,48.2 630.52,45.8 630.8,43.4" fill="none" stroke="#e87e7e" stroke-width="0.8" stroke-linejoin="round" stroke-linecap="round" />
<polyline points="440.7,172.5 440.93,171.38 441.15,170.25 441.38,169.12 441.6,168 441.93,166.5 442.25,165 442.57,163.5 442.9,162 443.5,160.75 444.1,159.5 444.7,158.25 445.3,157 446.5,155.75 447.7,154.5 448.9,153.25 450.1,152 451.62,151.07 453.15,150.15 454.68,149.23 456.2,148.3 457.73,147.68 459.25,147.05 460.77,146.43 462.3,145.8 463.8,145.3 465.3,144.8 466.8,144.3 468.3,143.8 469.82,143.3 471.35,142.8 472.88,142.3 474.4,141.8 475.8,141.4 477.2,141 478.6,140.6 480,140.2 482,139.65 484,139.1 486,138.55 488,138 491,137.25 494,136.5 497,135.75 500,135 503.5,133.75 507,132.5 510.5,131.25 514,130 517.8,128.7 521.6,127.4 525.4,126.1 529.2,124.8 532.9,123.75 536.6,122.7 540.3,121.65 544,120.6 547.6,119.65 551.2,118.7 554.8,117.75 558.4,116.8 562.05,115.67 565.7,114.55 569.35,113.42 573,112.3 576.65,111.05 580.3,109.8 583.95,108.55 587.6,107.3 589.2,106.62 590.8,105.95 592.4,105.27 594,104.6 595.5,103.88 597,103.15 598.5,102.42 600,101.7 602,100.65 604,99.6 606,98.55 608,97.5 609.5,96.53 611,95.55 612.5,94.57 614,93.6 615,92.82 616,92.05 617,91.28 618,90.5 619,89.5 620,88.5 621,87.5 622,86.5 622.75,85.4 623.5,84.3 624.25,83.2 625,82.1 625.55,80.57 626.1,79.05 626.65,77.53 627.2,76 627.58,74.5 627.95,73 628.33,71.5 628.7,70 629.05,68 629.4,66 629.75,64 630.1,62 630.4,59.75 630.7,57.5 631,55.25 631.3,53 631.57,50.6 631.85,48.2 632.12,45.8 632.4,43.4" fill="none" stroke="#76d676" stroke-width="0.8" stroke-linejoin="round" stroke-linecap="round" />
<polyline points="440.7,172.5 440.93,171.47 441.15,170.43 441.38,169.4 441.6,168.36 441.93,166.99 442.25,165.62 442.57,164.25 442.9,162.88 443.5,161.87 444.1,160.86 444.7,159.85 445.3,158.84 446.5,157.75 447.7,156.5 448.9,155.25 450.1,154 451.62,153.07 453.15,152.15 454.68,151.23 456.2,150.3 457.73,149.68 459.25,149.05 460.77,148.43 462.3,147.8 463.8,147.3 465.3,146.8 466.8,146.3 468.3,145.8 469.82,145.3 471.35,144.8 472.88,144.3 474.4,143.8 475.8,143.4 477.2,143 478.6,142.6 480,142.2 482,141.65 484,141.1 486,140.55 488,140 491,139.25 494,138.5 497,137.75 500,137 503.5,135.69 507,134.38 510.5,133.07 514,131.77 517.8,130.4 521.6,129.04 525.4,127.68 529.2,126.31 532.9,125.2 536.6,124.09 540.3,122.98 544,121.87 547.6,120.86 551.2,119.85 554.8,118.84 558.4,117.83 562.05,116.64 565.7,115.45 569.35,114.27 573,113.08 576.65,111.77 580.3,110.46 583.95,109.15 587.6,107.84 589.2,107.14 590.8,106.45 592.4,105.77 594,105.1 595.5,104.37 597.01,103.63 598.53,102.89 600.04,102.15 602.06,101.08 604.07,100.01 606.09,98.94 608.11,97.86 609.62,96.87 611.14,95.87 612.66,94.88 614.17,93.88 615.19,93.09 616.2,92.3 617.21,91.51 618.23,90.72 619.24,89.7 620.26,88.68 621.27,87.66 622.29,86.64 623.06,85.51 623.83,84.39 624.6,83.27 625.37,82.14 625.94,80.59 626.5,79.05 627.05,77.53 627.6,76 627.98,74.5 628.35,73 628.73,71.5 629.1,70 629.45,68 629.8,66 630.15,64 630.5,62 630.8,59.75 631.1,57.5 631.4,55.25 631.7,53 631.97,50.6 632.25,48.2 632.52,45.8 632.8,43.4" fill="none" stroke="#6f6fcf" stroke-width="0.8" stroke-linejoin="round" stroke-linecap="round" />
<polyline points="440.7,172.5 440.93,171.49 441.15,170.48 441.38,169.48 441.6,168.47 441.93,167.14 442.25,165.81 442.57,164.47 442.9,163.14 443.5,162.21 444.1,161.27 444.7,160.33 445.3,159.39 446.5,158.35 447.7,157.1 448.9,155.85 450.1,154.6 451.62,153.67 453.15,152.75 454.68,151.83 456.2,150.9 457.73,150.28 459.25,149.65 460.77,149.03 462.3,148.4 463.8,147.9 465.3,147.4 466.8,146.9 468.3,146.4 469.82,145.9 471.35,145.4 472.88,144.9 474.4,144.4 475.8,144 477.2,143.6 478.6,143.2 480,142.8 482,142.25 484,141.7 486,141.15 488,140.6 491,139.85 494,139.1 497,138.35 500,137.6 503.5,136.27 507,134.95 510.5,133.62 514,132.3 517.8,130.91 521.6,129.53 525.4,128.15 529.2,126.77 532.9,125.64 536.6,124.51 540.3,123.38 544,122.25 547.6,121.22 551.2,120.19 554.8,119.16 558.4,118.13 562.05,116.93 565.7,115.73 569.35,114.52 573,113.32 576.65,111.99 580.3,110.66 583.95,109.33 587.6,108 589.2,107.29 590.8,106.6 592.4,105.92 594,105.25 595.46,104.52 596.75,103.78 598.04,103.03 599.33,102.29 601.02,101.21 602.72,100.13 604.41,99.05 606.1,97.97 607.32,96.97 608.54,95.97 609.75,94.97 610.97,93.97 611.74,93.17 612.51,92.38 613.29,91.58 614.06,90.78 614.77,89.76 615.48,88.73 616.19,87.7 616.9,86.68 617.33,85.55 617.75,84.42 618.18,83.29 618.61,82.16 618.72,80.59 619.1,79.05 619.65,77.53 620.2,76 620.58,74.5 620.95,73 621.33,71.5 621.7,70 622.05,68 622.4,66 622.75,64 623.1,62 623.4,59.75 623.7,57.5 624,55.25 624.3,53 624.57,50.6 624.85,48.2 625.12,45.8 625.4,43.4" fill="none" stroke="#c49ccc" stroke-width="0.8" stroke-linejoin="round" stroke-linecap="round" />
<polyline points="440.7,101.6 440.97,102.1 441.24,102.6 441.51,103.1 441.78,103.6 442.08,104.25 442.39,104.9 442.7,105.55 443,106.2 443.71,107.95 444.41,109.7 445.12,111.45 445.82,113.2 447.14,115.17 448.47,117.15 449.79,119.12 451.12,121.1 452.35,123.15 453.58,125.2 454.75,127.25 455.8,129.3 457.25,131.33 458.7,133.35 460.15,135.38 461.6,137.4 463.45,139.07 465.3,140.75 467.15,142.43 468.87,144.1 470.48,144.78 472.08,145.45 473.68,146.12 475.28,146.8 476.46,147.2 477.64,147.6 478.82,148 480,148.4 486.25,149.24 492.5,150.07 498.75,150.91 505,151.75 511.25,152.66 517.5,153.57 523.75,154.68 530,155.9 536.25,157.05 542.5,158.2 548.75,159.35 555,160.5 558.75,161.5 562.5,162.5 566.25,163.5 570,164.5 573.75,165.3 577.5,166.1 581.25,166.9 585,167.7 590,168.52 594.99,169.34 599.99,170.16 604.99,170.98 609.99,171.79 614.98,172.61 619.98,173.43 624.98,174.25 631.31,175.29 637.64,176.33 643.97,177.36 650.3,178.4" fill="none" stroke="#737373" stroke-width="0.8" stroke-linejoin="round" stroke-linecap="round" />
<polyline points="440.7,101.6 440.98,102.1 441.25,102.6 441.53,103.1 441.81,103.6 442.13,104.25 442.44,104.9 442.76,105.55 443.08,106.2 443.81,107.95 444.54,109.7 445.27,111.45 446.01,113.2 447.36,115.17 448.72,117.15 450.07,119.12 451.43,121.1 452.69,123.15 453.95,125.2 455.15,127.25 456.2,129.3 457.65,131.33 459.1,133.35 460.55,135.38 462,137.4 463.85,139.07 465.7,140.75 467.55,142.43 469.25,144.1 470.8,144.78 472.35,145.45 473.89,146.12 475.44,146.8 476.58,147.2 477.72,147.6 478.86,148 480,148.4 486.25,149.14 492.5,149.89 498.75,150.63 505,151.38 511.25,152.19 517.5,153.01 523.75,154.08 530,155.3 536.25,156.45 542.5,157.6 548.75,158.75 555,159.9 558.75,160.9 562.5,161.9 566.25,162.9 570,163.9 573.75,164.7 577.5,165.5 581.25,166.3 585,167.1 588.75,167.72 592.5,168.35 596.25,168.97 600,169.6 603.75,170.3 607.5,171 611.25,171.7 615,172.4 619.75,173.25 624.5,174.1 629.25,174.95 634,175.8" fill="none" stroke="#e87e7e" stroke-width="0.8" stroke-linejoin="round" stroke-linecap="round" />
<polyline points="440.7,101.6 440.94,102.1 441.17,102.6 441.41,103.1 441.65,103.6 441.91,104.25 442.18,104.9 442.44,105.55 442.71,106.2 443.3,107.95 443.89,109.7 444.49,111.45 445.08,113.2 446.28,115.17 447.47,117.15 448.67,119.12 449.87,121.1 450.97,123.15 452.07,125.2 453.15,127.25 454.2,129.3 455.65,131.33 457.1,133.35 458.55,135.38 460,137.4 461.85,139.07 463.7,140.75 465.55,142.43 467.37,144.1 469.18,144.78 471,145.45 472.82,146.12 474.64,146.8 475.98,147.2 477.32,147.6 478.66,148 480,148.4 486.25,149.46 492.5,150.51 498.75,151.57 505,152.62 511.25,153.76 517.5,154.89 523.75,156.08 530,157.3 536.25,158.45 542.5,159.6 548.75,160.75 555,161.9 558.75,162.9 562.5,163.9 566.25,164.9 570,165.9 573.75,166.7 577.5,167.5 581.25,168.3 585,169.1 588.75,169.72 592.5,170.35 596.25,170.97 600,171.6 603.75,172.3 607.5,173 611.25,173.7 615,174.4 619.75,175.25 624.5,176.1 629.25,176.95 634,177.8" fill="none" stroke="#76d676" stroke-width="0.8" stroke-linejoin="round" stroke-linecap="round" />
<polyline points="440.7,101.6 440.9,102.1 441.1,102.6 441.3,103.1 441.5,103.6 441.71,104.25 441.93,104.9 442.14,105.55 442.36,106.2 442.82,107.95 443.28,109.7 443.74,111.45 444.2,113.2 445.24,115.17 446.29,117.15 447.34,119.12 448.39,121.1 449.33,123.15 450.27,125.2 451.25,127.25 452.3,129.3 453.75,131.33 455.2,133.35 456.65,135.38 458.1,137.4 459.95,139.07 461.8,140.75 463.65,142.43 465.57,144.1 467.65,144.78 469.73,145.45 471.8,146.12 473.88,146.8 475.41,147.2 476.94,147.6 478.47,148 480,148.4 486.25,149.74 492.5,151.07 498.75,152.41 505,153.75 511.25,155.16 517.5,156.57 523.75,157.88 530,159.1 536.25,160.25 542.5,161.4 548.75,162.55 555,163.7 558.75,164.7 562.5,165.7 566.25,166.7 570,167.7 573.75,168.5 577.5,169.3 581.25,170.1 585,170.9 588.75,171.52 592.5,172.15 596.25,172.77 600,173.4 603.75,174.1 607.5,174.8 611.25,175.5 615,176.2 619.75,177.05 624.5,177.9 629.25,178.75 634,179.6" fill="none" stroke="#6f6fcf" stroke-width="0.8" stroke-linejoin="round" stroke-linecap="round" />
<polyline points="440.7,101.6 440.87,102.1 441.05,102.6 441.22,103.1 441.39,103.6 441.57,104.25 441.76,104.9 441.94,105.55 442.12,106.2 442.49,107.95 442.86,109.7 443.23,111.45 443.59,113.2 444.54,115.17 445.48,117.15 446.43,119.12 447.37,121.1 448.21,123.15 449.05,125.2 449.95,127.25 451,129.3 452.45,131.33 453.9,133.35 455.35,135.38 456.8,137.4 458.65,139.07 460.5,140.75 462.35,142.43 464.35,144.1 466.6,144.78 468.85,145.45 471.11,146.12 473.36,146.8 475.02,147.2 476.68,147.6 478.34,148 480,148.4 486.25,149.96 492.5,151.51 498.75,153.07 505,154.62 511.25,156.26 517.5,157.89 523.75,159.28 530,160.5 536.25,161.65 542.5,162.8 548.75,163.95 555,165.1 558.75,166.1 562.5,167.1 566.25,168.1 570,169.1 573.75,169.9 577.5,170.7 581.25,171.5 585,172.3 588.75,172.92 592.5,173.55 596.25,174.17 600,174.8 603.75,175.5 607.5,176.2 611.25,176.9 615,177.6 619.75,178.45 624.5,179.3 629.25,180.15 634,181" fill="none" stroke="#c49ccc" stroke-width="0.8" stroke-linejoin="round" stroke-linecap="round" />
<line x1="450.1" y1="29.5" x2="484.9" y2="29.5" stroke="#737373" stroke-width="0.7" />
<text x="491.2" y="33.8" font-size="12" text-anchor="start" font-weight="normal" fill="#1e1e1e" stroke="#1e1e1e" stroke-width="0.3" >1</text>
<line x1="450.1" y1="48.5" x2="484.9" y2="48.5" stroke="#e87e7e" stroke-width="0.7" />
<text x="491.2" y="52.8" font-size="12" text-anchor="start" font-weight="normal" fill="#1e1e1e" stroke="#1e1e1e" stroke-width="0.3" >50</text>
<line x1="450.1" y1="67.5" x2="484.9" y2="67.5" stroke="#76d676" stroke-width="0.7" />
<text x="491.2" y="71.8" font-size="12" text-anchor="start" font-weight="normal" fill="#1e1e1e" stroke="#1e1e1e" stroke-width="0.3" >100</text>
<line x1="450.1" y1="86.5" x2="484.9" y2="86.5" stroke="#6f6fcf" stroke-width="0.7" />
<text x="491.2" y="90.8" font-size="12" text-anchor="start" font-weight="normal" fill="#1e1e1e" stroke="#1e1e1e" stroke-width="0.3" >150</text>
<line x1="450.1" y1="105.5" x2="484.9" y2="105.5" stroke="#c49ccc" stroke-width="0.7" />
<text x="491.2" y="109.8" font-size="12" text-anchor="start" font-weight="normal" fill="#1e1e1e" stroke="#1e1e1e" stroke-width="0.3" >200</text>
<rect x="440.7" y="18.9" width="224.8" height="180.7" fill="none" stroke="#2a2a2a" stroke-width="1.3"/>
<line x1="436.7" y1="185.4" x2="440.7" y2="185.4" stroke="#2a2a2a" stroke-width="1.2" />
<text x="431" y="189.7" font-size="14" text-anchor="end" font-weight="normal" fill="#1e1e1e" stroke="#1e1e1e" stroke-width="0.3" >0.0</text>
<line x1="436.7" y1="156.9" x2="440.7" y2="156.9" stroke="#2a2a2a" stroke-width="1.2" />
<text x="431" y="161.2" font-size="14" text-anchor="end" font-weight="normal" fill="#1e1e1e" stroke="#1e1e1e" stroke-width="0.3" >0.2</text>
<line x1="436.7" y1="128.4" x2="440.7" y2="128.4" stroke="#2a2a2a" stroke-width="1.2" />
<text x="431" y="132.7" font-size="14" text-anchor="end" font-weight="normal" fill="#1e1e1e" stroke="#1e1e1e" stroke-width="0.3" >0.4</text>
<line x1="436.7" y1="99.9" x2="440.7" y2="99.9" stroke="#2a2a2a" stroke-width="1.2" />
<text x="431" y="104.2" font-size="14" text-anchor="end" font-weight="normal" fill="#1e1e1e" stroke="#1e1e1e" stroke-width="0.3" >0.6</text>
<line x1="436.7" y1="71.4" x2="440.7" y2="71.4" stroke="#2a2a2a" stroke-width="1.2" />
<text x="431" y="75.7" font-size="14" text-anchor="end" font-weight="normal" fill="#1e1e1e" stroke="#1e1e1e" stroke-width="0.3" >0.8</text>
<line x1="436.7" y1="42.9" x2="440.7" y2="42.9" stroke="#2a2a2a" stroke-width="1.2" />
<text x="431" y="47.2" font-size="14" text-anchor="end" font-weight="normal" fill="#1e1e1e" stroke="#1e1e1e" stroke-width="0.3" >1.0</text>
<line x1="438.3" y1="171.15" x2="440.7" y2="171.15" stroke="#2a2a2a" stroke-width="1.2" />
<line x1="438.3" y1="142.65" x2="440.7" y2="142.65" stroke="#2a2a2a" stroke-width="1.2" />
<line x1="438.3" y1="114.15" x2="440.7" y2="114.15" stroke="#2a2a2a" stroke-width="1.2" />
<line x1="438.3" y1="85.65" x2="440.7" y2="85.65" stroke="#2a2a2a" stroke-width="1.2" />
<line x1="438.3" y1="57.15" x2="440.7" y2="57.15" stroke="#2a2a2a" stroke-width="1.2" />
<line x1="438.3" y1="28.65" x2="440.7" y2="28.65" stroke="#2a2a2a" stroke-width="1.2" />
<line x1="440.7" y1="199.6" x2="440.7" y2="203.6" stroke="#2a2a2a" stroke-width="1.2" />
<text x="440.7" y="220.5" font-size="14" text-anchor="middle" font-weight="normal" fill="#1e1e1e" stroke="#1e1e1e" stroke-width="0.3" >0</text>
<line x1="491.79" y1="199.6" x2="491.79" y2="203.6" stroke="#2a2a2a" stroke-width="1.2" />
<text x="491.79" y="220.5" font-size="14" text-anchor="middle" font-weight="normal" fill="#1e1e1e" stroke="#1e1e1e" stroke-width="0.3" >500</text>
<line x1="542.88" y1="199.6" x2="542.88" y2="203.6" stroke="#2a2a2a" stroke-width="1.2" />
<text x="542.88" y="220.5" font-size="14" text-anchor="middle" font-weight="normal" fill="#1e1e1e" stroke="#1e1e1e" stroke-width="0.3" >1,000</text>
<line x1="593.97" y1="199.6" x2="593.97" y2="203.6" stroke="#2a2a2a" stroke-width="1.2" />
<text x="593.97" y="220.5" font-size="14" text-anchor="middle" font-weight="normal" fill="#1e1e1e" stroke="#1e1e1e" stroke-width="0.3" >1,500</text>
<line x1="645.06" y1="199.6" x2="645.06" y2="203.6" stroke="#2a2a2a" stroke-width="1.2" />
<text x="645.06" y="220.5" font-size="14" text-anchor="middle" font-weight="normal" fill="#1e1e1e" stroke="#1e1e1e" stroke-width="0.3" >2,000</text>
<line x1="466.25" y1="199.6" x2="466.25" y2="202" stroke="#2a2a2a" stroke-width="1.2" />
<line x1="517.34" y1="199.6" x2="517.34" y2="202" stroke="#2a2a2a" stroke-width="1.2" />
<line x1="568.43" y1="199.6" x2="568.43" y2="202" stroke="#2a2a2a" stroke-width="1.2" />
<line x1="619.52" y1="199.6" x2="619.52" y2="202" stroke="#2a2a2a" stroke-width="1.2" />
<text x="397" y="109.25" font-size="14.2" text-anchor="middle" font-weight="normal" fill="#1e1e1e" stroke="#1e1e1e" stroke-width="0.3" transform="rotate(-90 397 109.25)" >Voltage (V)</text>
<text x="553.1" y="245.1" font-size="14.2" text-anchor="middle" font-weight="normal" fill="#1e1e1e" stroke="#1e1e1e" stroke-width="0.3" >Capacity (mAh g<tspan dy="-6.2" font-size="9">&#8722;1</tspan><tspan dy="6.2" dx="0.8">)</tspan></text>
<text x="388.25" y="17.9" font-size="20" text-anchor="start" font-weight="bold" fill="#000" stroke="#000" stroke-width="0.3" >b</text>
<clipPath id="cc"><rect x="80.2" y="267.4" width="224.3" height="181.1"/></clipPath><g clip-path="url(#cc)">
<polyline points="90.55,330.78 94,332.35 97.45,334.22 100.9,335.34 104.36,336.09 107.81,336.41 111.26,337.03 114.71,337.47 118.16,337.65 121.61,337.84 125.06,356.95 128.51,360.76 131.96,361.57 135.41,361.57 138.86,361.2 142.31,360.76 145.76,360.32 149.22,359.82 152.67,359.2 156.12,358.57 159.57,374.56 163.02,378.56 166.47,379.93 169.92,380.43 173.37,380.12 176.82,379.49 180.27,378.87 183.72,378.12 187.17,377.43 190.62,376.68 194.08,390.99 197.53,393.55 200.98,394.05 204.43,393.86 207.88,393.23 211.33,392.3 214.78,391.36 218.23,390.11 221.68,388.86 225.13,386.99 228.58,404.6 232.03,407.6 235.48,408.03 238.94,407.6 242.39,406.66 245.84,405.72 249.29,404.47 252.74,403.22 256.19,401.66 259.64,399.92 263.09,331.03 266.54,330.47 269.99,330.78 273.44,331.22 276.89,331.6 280.34,331.97 283.8,332.22 287.25,332.47 290.7,332.66 294.15,332.85 297.6,332.97 301.05,333.03 304.5,333.1" fill="none" stroke="#333" stroke-width="0.7" stroke-linejoin="round" stroke-linecap="round" />
<rect x="88.55" y="328.78" width="4" height="4" fill="#0a0a0a"/>
<rect x="92" y="330.35" width="4" height="4" fill="#0a0a0a"/>
<rect x="95.45" y="332.22" width="4" height="4" fill="#0a0a0a"/>
<rect x="98.9" y="333.34" width="4" height="4" fill="#0a0a0a"/>
<rect x="102.36" y="334.09" width="4" height="4" fill="#0a0a0a"/>
<rect x="105.81" y="334.41" width="4" height="4" fill="#0a0a0a"/>
<rect x="109.26" y="335.03" width="4" height="4" fill="#0a0a0a"/>
<rect x="112.71" y="335.47" width="4" height="4" fill="#0a0a0a"/>
<rect x="116.16" y="335.65" width="4" height="4" fill="#0a0a0a"/>
<rect x="119.61" y="335.84" width="4" height="4" fill="#0a0a0a"/>
<rect x="123.06" y="354.95" width="4" height="4" fill="#0a0a0a"/>
<rect x="126.51" y="358.76" width="4" height="4" fill="#0a0a0a"/>
<rect x="129.96" y="359.57" width="4" height="4" fill="#0a0a0a"/>
<rect x="133.41" y="359.57" width="4" height="4" fill="#0a0a0a"/>
<rect x="136.86" y="359.2" width="4" height="4" fill="#0a0a0a"/>
<rect x="140.31" y="358.76" width="4" height="4" fill="#0a0a0a"/>
<rect x="143.76" y="358.32" width="4" height="4" fill="#0a0a0a"/>
<rect x="147.22" y="357.82" width="4" height="4" fill="#0a0a0a"/>
<rect x="150.67" y="357.2" width="4" height="4" fill="#0a0a0a"/>
<rect x="154.12" y="356.57" width="4" height="4" fill="#0a0a0a"/>
<rect x="157.57" y="372.56" width="4" height="4" fill="#0a0a0a"/>
<rect x="161.02" y="376.56" width="4" height="4" fill="#0a0a0a"/>
<rect x="164.47" y="377.93" width="4" height="4" fill="#0a0a0a"/>
<rect x="167.92" y="378.43" width="4" height="4" fill="#0a0a0a"/>
<rect x="171.37" y="378.12" width="4" height="4" fill="#0a0a0a"/>
<rect x="174.82" y="377.49" width="4" height="4" fill="#0a0a0a"/>
<rect x="178.27" y="376.87" width="4" height="4" fill="#0a0a0a"/>
<rect x="181.72" y="376.12" width="4" height="4" fill="#0a0a0a"/>
<rect x="185.17" y="375.43" width="4" height="4" fill="#0a0a0a"/>
<rect x="188.62" y="374.68" width="4" height="4" fill="#0a0a0a"/>
<rect x="192.08" y="388.99" width="4" height="4" fill="#0a0a0a"/>
<rect x="195.53" y="391.55" width="4" height="4" fill="#0a0a0a"/>
<rect x="198.98" y="392.05" width="4" height="4" fill="#0a0a0a"/>
<rect x="202.43" y="391.86" width="4" height="4" fill="#0a0a0a"/>
<rect x="205.88" y="391.23" width="4" height="4" fill="#0a0a0a"/>
<rect x="209.33" y="390.3" width="4" height="4" fill="#0a0a0a"/>
<rect x="212.78" y="389.36" width="4" height="4" fill="#0a0a0a"/>
<rect x="216.23" y="388.11" width="4" height="4" fill="#0a0a0a"/>
<rect x="219.68" y="386.86" width="4" height="4" fill="#0a0a0a"/>
<rect x="223.13" y="384.99" width="4" height="4" fill="#0a0a0a"/>
<rect x="226.58" y="402.6" width="4" height="4" fill="#0a0a0a"/>
<rect x="230.03" y="405.6" width="4" height="4" fill="#0a0a0a"/>
<rect x="233.48" y="406.03" width="4" height="4" fill="#0a0a0a"/>
<rect x="236.94" y="405.6" width="4" height="4" fill="#0a0a0a"/>
<rect x="240.39" y="404.66" width="4" height="4" fill="#0a0a0a"/>
<rect x="243.84" y="403.72" width="4" height="4" fill="#0a0a0a"/>
<rect x="247.29" y="402.47" width="4" height="4" fill="#0a0a0a"/>
<rect x="250.74" y="401.22" width="4" height="4" fill="#0a0a0a"/>
<rect x="254.19" y="399.66" width="4" height="4" fill="#0a0a0a"/>
<rect x="257.64" y="397.92" width="4" height="4" fill="#0a0a0a"/>
<rect x="261.09" y="329.03" width="4" height="4" fill="#0a0a0a"/>
<rect x="264.54" y="328.47" width="4" height="4" fill="#0a0a0a"/>
<rect x="267.99" y="328.78" width="4" height="4" fill="#0a0a0a"/>
<rect x="271.44" y="329.22" width="4" height="4" fill="#0a0a0a"/>
<rect x="274.89" y="329.6" width="4" height="4" fill="#0a0a0a"/>
<rect x="278.34" y="329.97" width="4" height="4" fill="#0a0a0a"/>
<rect x="281.8" y="330.22" width="4" height="4" fill="#0a0a0a"/>
<rect x="285.25" y="330.47" width="4" height="4" fill="#0a0a0a"/>
<rect x="288.7" y="330.66" width="4" height="4" fill="#0a0a0a"/>
<rect x="292.15" y="330.85" width="4" height="4" fill="#0a0a0a"/>
<rect x="295.6" y="330.97" width="4" height="4" fill="#0a0a0a"/>
<rect x="299.05" y="331.03" width="4" height="4" fill="#0a0a0a"/>
<rect x="302.5" y="331.1" width="4" height="4" fill="#0a0a0a"/>
<polyline points="90.55,324.1 94,329.6 97.45,332.35 100.9,333.6 104.36,334.22 107.81,335.16 111.26,336.09 114.71,336.72 118.16,337.03 121.61,337.22 125.06,353.64 128.51,359.95 131.96,361.07 135.41,361.2 138.86,360.95 142.31,360.45 145.76,359.95 149.22,359.51 152.67,358.89 156.12,358.2 159.57,371.81 163.02,377.37 166.47,379.18 169.92,380.06 173.37,379.81 176.82,379.18 180.27,378.56 183.72,377.81 187.17,377.12 190.62,376.43 194.08,388.24 197.53,392.73 200.98,393.55 204.43,393.55 207.88,392.92 211.33,391.98 214.78,391.05 218.23,389.8 221.68,388.55 225.13,386.68 228.58,401.29 232.03,406.78 235.48,407.47 238.94,407.28 242.39,406.35 245.84,405.41 249.29,404.16 252.74,402.91 256.19,401.35 259.64,399.67 263.09,336.22 266.54,328.79 269.99,329.1 273.44,329.54 276.89,329.97 280.34,330.35 283.8,330.72 287.25,331.1 290.7,331.41 294.15,331.72 297.6,331.97 301.05,332.16 304.5,332.22" fill="none" stroke="#cc2222" stroke-width="0.7" stroke-linejoin="round" stroke-linecap="round" />
<circle cx="90.55" cy="324.1" r="2.25" fill="#e81212"/>
<circle cx="94" cy="329.6" r="2.25" fill="#e81212"/>
<circle cx="97.45" cy="332.35" r="2.25" fill="#e81212"/>
<circle cx="100.9" cy="333.6" r="2.25" fill="#e81212"/>
<circle cx="104.36" cy="334.22" r="2.25" fill="#e81212"/>
<circle cx="107.81" cy="335.16" r="2.25" fill="#e81212"/>
<circle cx="111.26" cy="336.09" r="2.25" fill="#e81212"/>
<circle cx="114.71" cy="336.72" r="2.25" fill="#e81212"/>
<circle cx="118.16" cy="337.03" r="2.25" fill="#e81212"/>
<circle cx="121.61" cy="337.22" r="2.25" fill="#e81212"/>
<circle cx="125.06" cy="353.64" r="2.25" fill="#e81212"/>
<circle cx="128.51" cy="359.95" r="2.25" fill="#e81212"/>
<circle cx="131.96" cy="361.07" r="2.25" fill="#e81212"/>
<circle cx="135.41" cy="361.2" r="2.25" fill="#e81212"/>
<circle cx="138.86" cy="360.95" r="2.25" fill="#e81212"/>
<circle cx="142.31" cy="360.45" r="2.25" fill="#e81212"/>
<circle cx="145.76" cy="359.95" r="2.25" fill="#e81212"/>
<circle cx="149.22" cy="359.51" r="2.25" fill="#e81212"/>
<circle cx="152.67" cy="358.89" r="2.25" fill="#e81212"/>
<circle cx="156.12" cy="358.2" r="2.25" fill="#e81212"/>
<circle cx="159.57" cy="371.81" r="2.25" fill="#e81212"/>
<circle cx="163.02" cy="377.37" r="2.25" fill="#e81212"/>
<circle cx="166.47" cy="379.18" r="2.25" fill="#e81212"/>
<circle cx="169.92" cy="380.06" r="2.25" fill="#e81212"/>
<circle cx="173.37" cy="379.81" r="2.25" fill="#e81212"/>
<circle cx="176.82" cy="379.18" r="2.25" fill="#e81212"/>
<circle cx="180.27" cy="378.56" r="2.25" fill="#e81212"/>
<circle cx="183.72" cy="377.81" r="2.25" fill="#e81212"/>
<circle cx="187.17" cy="377.12" r="2.25" fill="#e81212"/>
<circle cx="190.62" cy="376.43" r="2.25" fill="#e81212"/>
<circle cx="194.08" cy="388.24" r="2.25" fill="#e81212"/>
<circle cx="197.53" cy="392.73" r="2.25" fill="#e81212"/>
<circle cx="200.98" cy="393.55" r="2.25" fill="#e81212"/>
<circle cx="204.43" cy="393.55" r="2.25" fill="#e81212"/>
<circle cx="207.88" cy="392.92" r="2.25" fill="#e81212"/>
<circle cx="211.33" cy="391.98" r="2.25" fill="#e81212"/>
<circle cx="214.78" cy="391.05" r="2.25" fill="#e81212"/>
<circle cx="218.23" cy="389.8" r="2.25" fill="#e81212"/>
<circle cx="221.68" cy="388.55" r="2.25" fill="#e81212"/>
<circle cx="225.13" cy="386.68" r="2.25" fill="#e81212"/>
<circle cx="228.58" cy="401.29" r="2.25" fill="#e81212"/>
<circle cx="232.03" cy="406.78" r="2.25" fill="#e81212"/>
<circle cx="235.48" cy="407.47" r="2.25" fill="#e81212"/>
<circle cx="238.94" cy="407.28" r="2.25" fill="#e81212"/>
<circle cx="242.39" cy="406.35" r="2.25" fill="#e81212"/>
<circle cx="245.84" cy="405.41" r="2.25" fill="#e81212"/>
<circle cx="249.29" cy="404.16" r="2.25" fill="#e81212"/>
<circle cx="252.74" cy="402.91" r="2.25" fill="#e81212"/>
<circle cx="256.19" cy="401.35" r="2.25" fill="#e81212"/>
<circle cx="259.64" cy="399.67" r="2.25" fill="#e81212"/>
<circle cx="263.09" cy="336.22" r="2.25" fill="#e81212"/>
<circle cx="266.54" cy="328.79" r="2.25" fill="#e81212"/>
<circle cx="269.99" cy="329.1" r="2.25" fill="#e81212"/>
<circle cx="273.44" cy="329.54" r="2.25" fill="#e81212"/>
<circle cx="276.89" cy="329.97" r="2.25" fill="#e81212"/>
<circle cx="280.34" cy="330.35" r="2.25" fill="#e81212"/>
<circle cx="283.8" cy="330.72" r="2.25" fill="#e81212"/>
<circle cx="287.25" cy="331.1" r="2.25" fill="#e81212"/>
<circle cx="290.7" cy="331.41" r="2.25" fill="#e81212"/>
<circle cx="294.15" cy="331.72" r="2.25" fill="#e81212"/>
<circle cx="297.6" cy="331.97" r="2.25" fill="#e81212"/>
<circle cx="301.05" cy="332.16" r="2.25" fill="#e81212"/>
<circle cx="304.5" cy="332.22" r="2.25" fill="#e81212"/>
</g>
<line x1="84.8" y1="281.8" x2="119.4" y2="281.8" stroke="#ababab" stroke-width="0.9" />
<rect x="100.1" y="280.0" width="3.6" height="3.6" fill="#0a0a0a"/>
<text x="123" y="285.8" font-size="12" text-anchor="start" font-weight="normal" fill="#1e1e1e" stroke="#1e1e1e" stroke-width="0.3" >Charge</text>
<line x1="84.8" y1="301" x2="119.4" y2="301" stroke="#f0a0a0" stroke-width="0.9" />
<circle cx="101.9" cy="301" r="2.3" fill="#e81212"/>
<text x="123" y="305.2" font-size="12" text-anchor="start" font-weight="normal" fill="#1e1e1e" stroke="#1e1e1e" stroke-width="0.3" >Discharge</text>
<rect x="80.2" y="267.4" width="224.3" height="181.1" fill="none" stroke="#2a2a2a" stroke-width="1.3"/>
<line x1="76.2" y1="448.5" x2="80.2" y2="448.5" stroke="#2a2a2a" stroke-width="1.2" />
<text x="69.9" y="452.8" font-size="14" text-anchor="end" font-weight="normal" fill="#1e1e1e" stroke="#1e1e1e" stroke-width="0.3" >0</text>
<line x1="76.2" y1="417.28" x2="80.2" y2="417.28" stroke="#2a2a2a" stroke-width="1.2" />
<text x="69.9" y="421.58" font-size="14" text-anchor="end" font-weight="normal" fill="#1e1e1e" stroke="#1e1e1e" stroke-width="0.3" >500</text>
<line x1="76.2" y1="386.05" x2="80.2" y2="386.05" stroke="#2a2a2a" stroke-width="1.2" />
<text x="69.9" y="390.35" font-size="14" text-anchor="end" font-weight="normal" fill="#1e1e1e" stroke="#1e1e1e" stroke-width="0.3" >1,000</text>
<line x1="76.2" y1="354.83" x2="80.2" y2="354.83" stroke="#2a2a2a" stroke-width="1.2" />
<text x="69.9" y="359.13" font-size="14" text-anchor="end" font-weight="normal" fill="#1e1e1e" stroke="#1e1e1e" stroke-width="0.3" >1,500</text>
<line x1="76.2" y1="323.6" x2="80.2" y2="323.6" stroke="#2a2a2a" stroke-width="1.2" />
<text x="69.9" y="327.9" font-size="14" text-anchor="end" font-weight="normal" fill="#1e1e1e" stroke="#1e1e1e" stroke-width="0.3" >2,000</text>
<line x1="76.2" y1="292.38" x2="80.2" y2="292.38" stroke="#2a2a2a" stroke-width="1.2" />
<text x="69.9" y="296.68" font-size="14" text-anchor="end" font-weight="normal" fill="#1e1e1e" stroke="#1e1e1e" stroke-width="0.3" >2,500</text>
<line x1="77.8" y1="432.89" x2="80.2" y2="432.89" stroke="#2a2a2a" stroke-width="1.2" />
<line x1="77.8" y1="401.66" x2="80.2" y2="401.66" stroke="#2a2a2a" stroke-width="1.2" />
<line x1="77.8" y1="370.44" x2="80.2" y2="370.44" stroke="#2a2a2a" stroke-width="1.2" />
<line x1="77.8" y1="339.22" x2="80.2" y2="339.22" stroke="#2a2a2a" stroke-width="1.2" />
<line x1="77.8" y1="307.99" x2="80.2" y2="307.99" stroke="#2a2a2a" stroke-width="1.2" />
<line x1="77.8" y1="276.77" x2="80.2" y2="276.77" stroke="#2a2a2a" stroke-width="1.2" />
<line x1="80.2" y1="448.5" x2="80.2" y2="452.5" stroke="#2a2a2a" stroke-width="1.2" />
<text x="80.2" y="468.8" font-size="14" text-anchor="middle" font-weight="normal" fill="#1e1e1e" stroke="#1e1e1e" stroke-width="0.3" >0</text>
<line x1="114.71" y1="448.5" x2="114.71" y2="452.5" stroke="#2a2a2a" stroke-width="1.2" />
<text x="114.71" y="468.8" font-size="14" text-anchor="middle" font-weight="normal" fill="#1e1e1e" stroke="#1e1e1e" stroke-width="0.3" >10</text>
<line x1="149.22" y1="448.5" x2="149.22" y2="452.5" stroke="#2a2a2a" stroke-width="1.2" />
<text x="149.22" y="468.8" font-size="14" text-anchor="middle" font-weight="normal" fill="#1e1e1e" stroke="#1e1e1e" stroke-width="0.3" >20</text>
<line x1="183.72" y1="448.5" x2="183.72" y2="452.5" stroke="#2a2a2a" stroke-width="1.2" />
<text x="183.72" y="468.8" font-size="14" text-anchor="middle" font-weight="normal" fill="#1e1e1e" stroke="#1e1e1e" stroke-width="0.3" >30</text>
<line x1="218.23" y1="448.5" x2="218.23" y2="452.5" stroke="#2a2a2a" stroke-width="1.2" />
<text x="218.23" y="468.8" font-size="14" text-anchor="middle" font-weight="normal" fill="#1e1e1e" stroke="#1e1e1e" stroke-width="0.3" >40</text>
<line x1="252.74" y1="448.5" x2="252.74" y2="452.5" stroke="#2a2a2a" stroke-width="1.2" />
<text x="252.74" y="468.8" font-size="14" text-anchor="middle" font-weight="normal" fill="#1e1e1e" stroke="#1e1e1e" stroke-width="0.3" >50</text>
<line x1="287.25" y1="448.5" x2="287.25" y2="452.5" stroke="#2a2a2a" stroke-width="1.2" />
<text x="287.25" y="468.8" font-size="14" text-anchor="middle" font-weight="normal" fill="#1e1e1e" stroke="#1e1e1e" stroke-width="0.3" >60</text>
<line x1="97.45" y1="448.5" x2="97.45" y2="450.9" stroke="#2a2a2a" stroke-width="1.2" />
<line x1="131.96" y1="448.5" x2="131.96" y2="450.9" stroke="#2a2a2a" stroke-width="1.2" />
<line x1="166.47" y1="448.5" x2="166.47" y2="450.9" stroke="#2a2a2a" stroke-width="1.2" />
<line x1="200.98" y1="448.5" x2="200.98" y2="450.9" stroke="#2a2a2a" stroke-width="1.2" />
<line x1="235.48" y1="448.5" x2="235.48" y2="450.9" stroke="#2a2a2a" stroke-width="1.2" />
<line x1="269.99" y1="448.5" x2="269.99" y2="450.9" stroke="#2a2a2a" stroke-width="1.2" />
<line x1="304.5" y1="448.5" x2="304.5" y2="450.9" stroke="#2a2a2a" stroke-width="1.2" />
<text x="18.4" y="357.95" font-size="14.2" text-anchor="middle" font-weight="normal" fill="#1e1e1e" stroke="#1e1e1e" stroke-width="0.3" transform="rotate(-90 18.4 357.95)" >Capacity (mAh g<tspan dy="-6.2" font-size="9">&#8722;1</tspan><tspan dy="6.2" dx="0.8">)</tspan></text>
<text x="192.35" y="490.1" font-size="14.2" text-anchor="middle" font-weight="normal" fill="#1e1e1e" stroke="#1e1e1e" stroke-width="0.3" >Cycle number</text>
<text x="4.2" y="277" font-size="20" text-anchor="start" font-weight="bold" fill="#000" stroke="#000" stroke-width="0.3" >c</text>
<polyline points="408.6,295.2 408.7,291.5 409.6,289 411.3,287.2 413.8,286 417,285.4 422,285.1 430,285 629.5,285" fill="none" stroke="#ee1111" stroke-width="3.7" stroke-linejoin="round" stroke-linecap="butt" />
<rect x="466.9" y="285.6" width="4.1" height="3.0" fill="#cc1a1a"/>
<polyline points="408.3,325.1 413.8,327.5 418.1,329.5 425.1,330.9 431.3,330.2 440,329.2 447,327.9 453.2,326.6 460,326.3 474.6,325.5 484.8,325.5 496.5,327 508.2,328.1 518.4,329.6 533,330 547.6,330.6 562.4,330.6 574.8,331.7 587.2,333.5 599.6,334.2 612,334.6 629.5,334.9" fill="none" stroke="#0a0a0a" stroke-width="4.6" stroke-linejoin="round" stroke-linecap="butt" />
<rect x="551.4" y="340.6" width="3.6" height="3.6" fill="#111"/>
<line x1="553.2" y1="335.5" x2="553.2" y2="339.8" stroke="#777" stroke-width="0.6" />
<text x="454.3" y="316.9" font-size="12.2" text-anchor="start" font-weight="normal" fill="#1e1e1e" stroke="#1e1e1e" stroke-width="0.3" >C/2, 0.5 mAh cm<tspan dy="-4.6" font-size="9">&#8722;2</tspan></text>
<polyline points="430,336 430,344.3 421,344.3" fill="none" stroke="#777" stroke-width="0.9" stroke-linejoin="round" stroke-linecap="round" />
<path d="M417.1,344.3 L422.4,342.8 L422.4,345.8 Z" fill="#111"/>
<polyline points="607.4,287.8 607.4,297.4 617.5,297.4" fill="none" stroke="#e46a6a" stroke-width="0.75" stroke-linejoin="round" stroke-linecap="round" />
<path d="M621.2,297.4 L616.4,295.9 L616.4,298.9 Z" fill="#e02020"/>
<rect x="407.5" y="268.8" width="222" height="179.5" fill="none" stroke="#2a2a2a" stroke-width="1.3"/>
<line x1="403.5" y1="448.3" x2="407.5" y2="448.3" stroke="#2a2a2a" stroke-width="1.2" />
<text x="397.4" y="452.6" font-size="14" text-anchor="end" font-weight="normal" fill="#1e1e1e" stroke="#1e1e1e" stroke-width="0.3" >0</text>
<line x1="403.5" y1="410.51" x2="407.5" y2="410.51" stroke="#2a2a2a" stroke-width="1.2" />
<text x="397.4" y="414.81" font-size="14" text-anchor="end" font-weight="normal" fill="#1e1e1e" stroke="#1e1e1e" stroke-width="0.3" >400</text>
<line x1="403.5" y1="372.72" x2="407.5" y2="372.72" stroke="#2a2a2a" stroke-width="1.2" />
<text x="397.4" y="377.02" font-size="14" text-anchor="end" font-weight="normal" fill="#1e1e1e" stroke="#1e1e1e" stroke-width="0.3" >800</text>
<line x1="403.5" y1="334.93" x2="407.5" y2="334.93" stroke="#2a2a2a" stroke-width="1.2" />
<text x="397.4" y="339.23" font-size="14" text-anchor="end" font-weight="normal" fill="#1e1e1e" stroke="#1e1e1e" stroke-width="0.3" >1,200</text>
<line x1="403.5" y1="297.14" x2="407.5" y2="297.14" stroke="#2a2a2a" stroke-width="1.2" />
<text x="397.4" y="301.44" font-size="14" text-anchor="end" font-weight="normal" fill="#1e1e1e" stroke="#1e1e1e" stroke-width="0.3" >1,600</text>
<line x1="405.1" y1="429.41" x2="407.5" y2="429.41" stroke="#2a2a2a" stroke-width="1.2" />
<line x1="405.1" y1="391.62" x2="407.5" y2="391.62" stroke="#2a2a2a" stroke-width="1.2" />
<line x1="405.1" y1="353.83" x2="407.5" y2="353.83" stroke="#2a2a2a" stroke-width="1.2" />
<line x1="405.1" y1="316.04" x2="407.5" y2="316.04" stroke="#2a2a2a" stroke-width="1.2" />
<line x1="405.1" y1="278.25" x2="407.5" y2="278.25" stroke="#2a2a2a" stroke-width="1.2" />
<line x1="626" y1="448.3" x2="629.5" y2="448.3" stroke="#2a2a2a" stroke-width="1.2" />
<text x="636.2" y="452.6" font-size="14" text-anchor="start" font-weight="normal" fill="#1e1e1e" stroke="#1e1e1e" stroke-width="0.3" >0</text>
<line x1="626" y1="415.66" x2="629.5" y2="415.66" stroke="#2a2a2a" stroke-width="1.2" />
<text x="636.2" y="419.96" font-size="14" text-anchor="start" font-weight="normal" fill="#1e1e1e" stroke="#1e1e1e" stroke-width="0.3" >20</text>
<line x1="626" y1="383.03" x2="629.5" y2="383.03" stroke="#2a2a2a" stroke-width="1.2" />
<text x="636.2" y="387.33" font-size="14" text-anchor="start" font-weight="normal" fill="#1e1e1e" stroke="#1e1e1e" stroke-width="0.3" >40</text>
<line x1="626" y1="350.39" x2="629.5" y2="350.39" stroke="#2a2a2a" stroke-width="1.2" />
<text x="636.2" y="354.69" font-size="14" text-anchor="start" font-weight="normal" fill="#1e1e1e" stroke="#1e1e1e" stroke-width="0.3" >60</text>
<line x1="626" y1="317.75" x2="629.5" y2="317.75" stroke="#2a2a2a" stroke-width="1.2" />
<text x="636.2" y="322.05" font-size="14" text-anchor="start" font-weight="normal" fill="#1e1e1e" stroke="#1e1e1e" stroke-width="0.3" >80</text>
<text x="636.2" y="289.42" font-size="14" text-anchor="start" font-weight="normal" fill="#1e1e1e" stroke="#1e1e1e" stroke-width="0.3" >100</text>
<line x1="627.1" y1="431.98" x2="629.5" y2="431.98" stroke="#2a2a2a" stroke-width="1.2" />
<line x1="627.1" y1="399.35" x2="629.5" y2="399.35" stroke="#2a2a2a" stroke-width="1.2" />
<line x1="627.1" y1="366.71" x2="629.5" y2="366.71" stroke="#2a2a2a" stroke-width="1.2" />
<line x1="627.1" y1="334.07" x2="629.5" y2="334.07" stroke="#2a2a2a" stroke-width="1.2" />
<line x1="627.1" y1="301.44" x2="629.5" y2="301.44" stroke="#2a2a2a" stroke-width="1.2" />
<line x1="627.1" y1="268.8" x2="629.5" y2="268.8" stroke="#2a2a2a" stroke-width="1.2" />
<line x1="407.5" y1="448.3" x2="407.5" y2="452.3" stroke="#2a2a2a" stroke-width="1.2" />
<text x="407.5" y="468.6" font-size="14" text-anchor="middle" font-weight="normal" fill="#1e1e1e" stroke="#1e1e1e" stroke-width="0.3" >0</text>
<line x1="463" y1="448.3" x2="463" y2="452.3" stroke="#2a2a2a" stroke-width="1.2" />
<text x="463" y="468.6" font-size="14" text-anchor="middle" font-weight="normal" fill="#1e1e1e" stroke="#1e1e1e" stroke-width="0.3" >150</text>
<line x1="518.5" y1="448.3" x2="518.5" y2="452.3" stroke="#2a2a2a" stroke-width="1.2" />
<text x="518.5" y="468.6" font-size="14" text-anchor="middle" font-weight="normal" fill="#1e1e1e" stroke="#1e1e1e" stroke-width="0.3" >300</text>
<line x1="574" y1="448.3" x2="574" y2="452.3" stroke="#2a2a2a" stroke-width="1.2" />
<text x="574" y="468.6" font-size="14" text-anchor="middle" font-weight="normal" fill="#1e1e1e" stroke="#1e1e1e" stroke-width="0.3" >450</text>
<line x1="629.5" y1="448.3" x2="629.5" y2="452.3" stroke="#2a2a2a" stroke-width="1.2" />
<text x="629.5" y="468.6" font-size="14" text-anchor="middle" font-weight="normal" fill="#1e1e1e" stroke="#1e1e1e" stroke-width="0.3" >600</text>
<line x1="435.25" y1="448.3" x2="435.25" y2="450.7" stroke="#2a2a2a" stroke-width="1.2" />
<line x1="490.75" y1="448.3" x2="490.75" y2="450.7" stroke="#2a2a2a" stroke-width="1.2" />
<line x1="546.25" y1="448.3" x2="546.25" y2="450.7" stroke="#2a2a2a" stroke-width="1.2" />
<line x1="601.75" y1="448.3" x2="601.75" y2="450.7" stroke="#2a2a2a" stroke-width="1.2" />
<text x="347.4" y="358.55" font-size="14.2" text-anchor="middle" font-weight="normal" fill="#1e1e1e" stroke="#1e1e1e" stroke-width="0.3" transform="rotate(-90 347.4 358.55)" >Capacity (mAh g<tspan dy="-6.2" font-size="9">&#8722;1</tspan><tspan dy="6.2" dx="0.8">)</tspan></text>
<text x="518.5" y="490.1" font-size="14.2" text-anchor="middle" font-weight="normal" fill="#1e1e1e" stroke="#1e1e1e" stroke-width="0.3" >Cycle number</text>
<text x="682.9" y="358.55" font-size="14.2" text-anchor="middle" font-weight="normal" fill="#1e1e1e" stroke="#1e1e1e" stroke-width="0.3" transform="rotate(-90 682.9 358.55)" >Coulombic efficiency (%)</text>
<text x="332.85" y="277.45" font-size="20" text-anchor="start" font-weight="bold" fill="#000" stroke="#000" stroke-width="0.3" >d</text>
</svg>
</body></html>
